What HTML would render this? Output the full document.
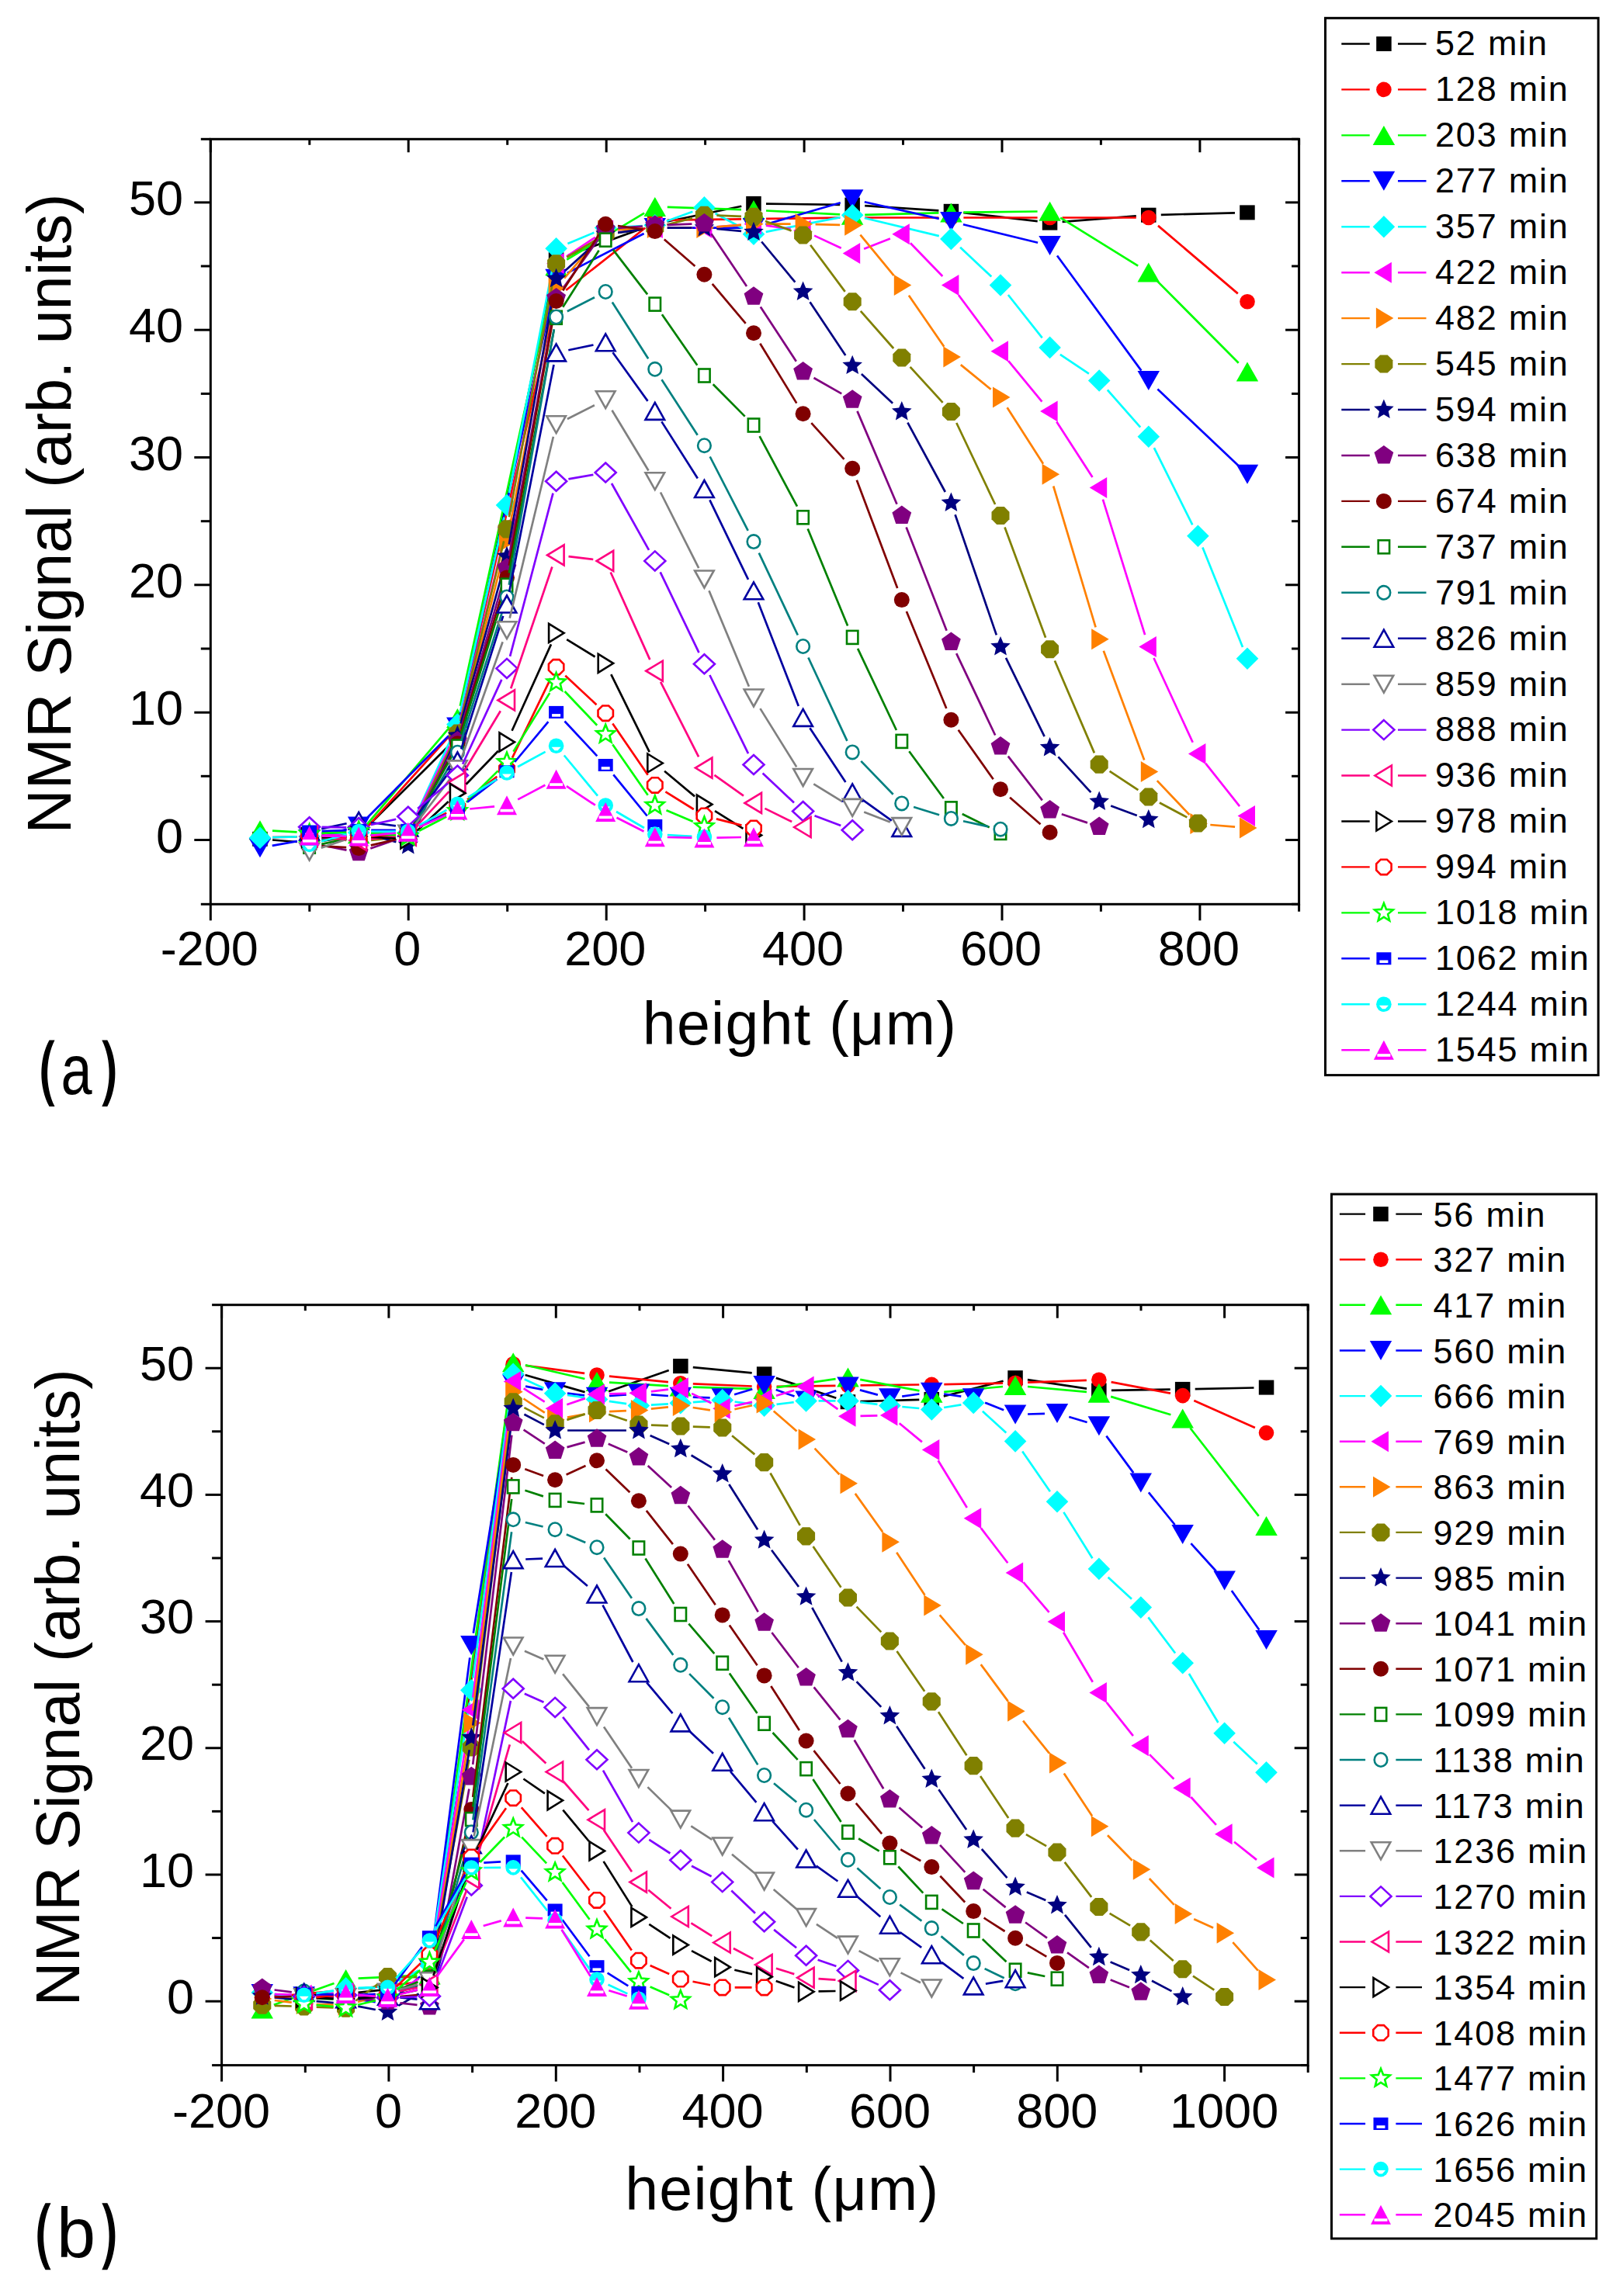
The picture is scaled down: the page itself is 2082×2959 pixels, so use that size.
<!DOCTYPE html>
<html><head><meta charset="utf-8"><style>
html,body{margin:0;padding:0;background:#fff;}
svg{display:block;}
text{font-family:"Liberation Sans", sans-serif;fill:#000;}
</style></head><body>
<svg width="2082" height="2959" viewBox="0 0 2082 2959">
<rect width="2082" height="2959" fill="#fff"/>
<path d="M351 1082.5L382.6 1085M414.4 1083.8L446.4 1078.8M473.6 1065.1L578 961.3M592.6 934.4L713.4 350.3M731.6 329.2L828.8 294.1M859.5 285.5L955.3 265.7M987 262.6L1082.2 263.9M1114.2 265.1L1209.4 271.3M1241.3 274.1L1336.7 285.2M1368.6 285.8L1463.8 278.4M1495.8 276.8L1591 274.3" fill="none" stroke="#000000" stroke-width="2.7"/>
<rect x="325.2" y="1071.8" width="19.5" height="19" fill="#000000"/>
<rect x="388.8" y="1076.7" width="19.5" height="19" fill="#000000"/>
<rect x="452.4" y="1066.9" width="19.5" height="19" fill="#000000"/>
<rect x="579.6" y="940.5" width="19.5" height="19" fill="#000000"/>
<rect x="706.8" y="325.1" width="19.5" height="19" fill="#000000"/>
<rect x="834" y="279.2" width="19.5" height="19" fill="#000000"/>
<rect x="961.2" y="252.9" width="19.5" height="19" fill="#000000"/>
<rect x="1088.4" y="254.6" width="19.5" height="19" fill="#000000"/>
<rect x="1215.7" y="262.8" width="19.5" height="19" fill="#000000"/>
<rect x="1342.8" y="277.6" width="19.5" height="19" fill="#000000"/>
<rect x="1470" y="267.7" width="19.5" height="19" fill="#000000"/>
<rect x="1597.2" y="264.4" width="19.5" height="19" fill="#000000"/>
<path d="M351 1079.2L382.6 1078.4M414.6 1078L446.2 1078M472.9 1066.1L578.7 948.8M593 921.3L713 399.5M729.2 374L831.2 293.7M859.8 283.6L955 282.3M987 281.9L1082.2 280.7M1114.2 280.5L1209.4 280.5M1241.4 280.5L1336.6 280.5M1368.6 280.5L1463.8 280.5M1492 290.9L1594.8 378.4" fill="none" stroke="#FF0000" stroke-width="2.7"/>
<circle cx="335" cy="1079.7" r="9.8" fill="#FF0000"/>
<circle cx="398.6" cy="1078" r="9.8" fill="#FF0000"/>
<circle cx="462.2" cy="1078" r="9.8" fill="#FF0000"/>
<circle cx="589.4" cy="936.9" r="9.8" fill="#FF0000"/>
<circle cx="716.6" cy="383.9" r="9.8" fill="#FF0000"/>
<circle cx="843.8" cy="283.8" r="9.8" fill="#FF0000"/>
<circle cx="971" cy="282.1" r="9.8" fill="#FF0000"/>
<circle cx="1098.2" cy="280.5" r="9.8" fill="#FF0000"/>
<circle cx="1225.4" cy="280.5" r="9.8" fill="#FF0000"/>
<circle cx="1352.6" cy="280.5" r="9.8" fill="#FF0000"/>
<circle cx="1479.8" cy="280.5" r="9.8" fill="#FF0000"/>
<circle cx="1607" cy="388.8" r="9.8" fill="#FF0000"/>
<path d="M351 1070.6L382.6 1072.3M414.6 1073.5L446.2 1074.3M472.6 1062.6L579 937.6M592.8 909.8L713.2 358.5M730.3 334.6L830.1 274.6M859.8 266.9L955 270.1M987 271.5L1082.2 276.4M1114.2 276.8L1209.4 274.3M1241.4 273.7L1336.6 272.5M1366.2 280.7L1466.2 342.6M1491.1 362.4L1595.7 467.7" fill="none" stroke="#00FF00" stroke-width="2.7"/>
<path d="M335 1057.3 L349.2 1082.3 L320.7 1082.3Z" fill="#00FF00"/>
<path d="M398.6 1060.6 L412.8 1085.6 L384.3 1085.6Z" fill="#00FF00"/>
<path d="M462.2 1062.2 L476.4 1087.2 L447.9 1087.2Z" fill="#00FF00"/>
<path d="M589.4 912.9 L603.6 937.9 L575.1 937.9Z" fill="#00FF00"/>
<path d="M716.6 330.3 L730.8 355.3 L702.3 355.3Z" fill="#00FF00"/>
<path d="M843.8 253.9 L858 278.9 L829.5 278.9Z" fill="#00FF00"/>
<path d="M971 258.1 L985.2 283.1 L956.8 283.1Z" fill="#00FF00"/>
<path d="M1098.2 264.7 L1112.4 289.7 L1083.9 289.7Z" fill="#00FF00"/>
<path d="M1225.4 261.4 L1239.7 286.4 L1211.2 286.4Z" fill="#00FF00"/>
<path d="M1352.6 259.8 L1366.8 284.8 L1338.3 284.8Z" fill="#00FF00"/>
<path d="M1479.8 338.6 L1494 363.6 L1465.5 363.6Z" fill="#00FF00"/>
<path d="M1607 466.6 L1621.2 491.6 L1592.8 491.6Z" fill="#00FF00"/>
<path d="M350.7 1089.9L382.9 1084.1M414.1 1077.3L446.7 1068.9M473.5 1053.5L578.1 948.2M592.8 921.3L713.2 374.9M730.8 351.9L829.6 301M859.8 293.6L955 293.6M986.4 289.2L1082.8 261.2M1113.8 260.2L1209.8 281.9M1240.9 289.2L1337.1 312.8M1362 329.5L1470.4 477.6M1491.4 501.5L1595.4 600.1" fill="none" stroke="#0000FF" stroke-width="2.7"/>
<path d="M335 1105.3 L349.2 1080.3 L320.7 1080.3Z" fill="#0000FF"/>
<path d="M398.6 1093.8 L412.8 1068.8 L384.3 1068.8Z" fill="#0000FF"/>
<path d="M462.2 1077.4 L476.4 1052.4 L447.9 1052.4Z" fill="#0000FF"/>
<path d="M589.4 949.4 L603.6 924.4 L575.1 924.4Z" fill="#0000FF"/>
<path d="M716.6 371.8 L730.8 346.8 L702.3 346.8Z" fill="#0000FF"/>
<path d="M843.8 306.1 L858 281.1 L829.5 281.1Z" fill="#0000FF"/>
<path d="M971 306.1 L985.2 281.1 L956.8 281.1Z" fill="#0000FF"/>
<path d="M1098.2 269.2 L1112.4 244.2 L1083.9 244.2Z" fill="#0000FF"/>
<path d="M1225.4 297.9 L1239.7 272.9 L1211.2 272.9Z" fill="#0000FF"/>
<path d="M1352.6 329.1 L1366.8 304.1 L1338.3 304.1Z" fill="#0000FF"/>
<path d="M1479.8 503 L1494 478 L1465.5 478Z" fill="#0000FF"/>
<path d="M1607 623.7 L1621.2 598.7 L1592.8 598.7Z" fill="#0000FF"/>
<path d="M351 1079.2L382.6 1078.4M414.6 1076.8L446.2 1074.3M478.2 1073.1L509.8 1073.1M532.4 1058.5L582.8 948.2M592.9 918L649.5 666.6M656 635.3L713.6 335.9M731.4 314L765.4 299.8M796.2 292.8L827.8 291.2M858.8 284.9L892.4 272.8M921.5 275L956.9 294.2M986.7 298.8L1082.5 280.2M1113.8 281L1209.8 304.1M1237.1 318.8L1277.3 356.5M1298.9 380L1342.7 435.3M1365.9 456.8L1402.9 481.6M1426.8 502.5L1469.2 550.7M1486.9 577.1L1536.3 676.4M1549.4 705.6L1601 833.9" fill="none" stroke="#00FFFF" stroke-width="2.7"/>
<path d="M335 1065.4 L349.3 1079.7 L335 1094 L320.7 1079.7Z" fill="#00FFFF"/>
<path d="M398.6 1063.7 L412.9 1078 L398.6 1092.3 L384.3 1078Z" fill="#00FFFF"/>
<path d="M462.2 1058.8 L476.5 1073.1 L462.2 1087.4 L447.9 1073.1Z" fill="#00FFFF"/>
<path d="M525.8 1058.8 L540.1 1073.1 L525.8 1087.4 L511.5 1073.1Z" fill="#00FFFF"/>
<path d="M589.4 919.3 L603.7 933.6 L589.4 947.9 L575.1 933.6Z" fill="#00FFFF"/>
<path d="M653 636.7 L667.3 651 L653 665.3 L638.7 651Z" fill="#00FFFF"/>
<path d="M716.6 305.9 L730.9 320.2 L716.6 334.5 L702.3 320.2Z" fill="#00FFFF"/>
<path d="M780.2 279.3 L794.5 293.6 L780.2 307.9 L765.9 293.6Z" fill="#00FFFF"/>
<path d="M843.8 276 L858.1 290.3 L843.8 304.6 L829.5 290.3Z" fill="#00FFFF"/>
<path d="M907.4 253.1 L921.7 267.4 L907.4 281.7 L893.1 267.4Z" fill="#00FFFF"/>
<path d="M971 287.5 L985.3 301.8 L971 316.1 L956.7 301.8Z" fill="#00FFFF"/>
<path d="M1098.2 262.9 L1112.5 277.2 L1098.2 291.5 L1083.9 277.2Z" fill="#00FFFF"/>
<path d="M1225.4 293.6 L1239.7 307.9 L1225.4 322.2 L1211.1 307.9Z" fill="#00FFFF"/>
<path d="M1289 353.2 L1303.3 367.5 L1289 381.8 L1274.7 367.5Z" fill="#00FFFF"/>
<path d="M1352.6 433.6 L1366.9 447.9 L1352.6 462.2 L1338.3 447.9Z" fill="#00FFFF"/>
<path d="M1416.2 476.2 L1430.5 490.5 L1416.2 504.8 L1401.9 490.5Z" fill="#00FFFF"/>
<path d="M1479.8 548.4 L1494.1 562.7 L1479.8 577 L1465.5 562.7Z" fill="#00FFFF"/>
<path d="M1543.4 676.4 L1557.7 690.7 L1543.4 705 L1529.1 690.7Z" fill="#00FFFF"/>
<path d="M1607 834.5 L1621.3 848.8 L1607 863.1 L1592.7 848.8Z" fill="#00FFFF"/>
<path d="M414.6 1076.4L446.2 1076.4M478.2 1075.6L509.8 1073.9M532.8 1058.7L582.4 956.2M593.2 926.3L649.2 694.8M655.9 663.5L713.7 355.3M729.9 330.7L766.9 305.8M796.2 296.1L827.8 294.4M859.8 293.6L891.4 293.6M923.4 292.4L955 289.9M986.9 290.7L1018.7 294.9M1049.1 303.6L1083.7 319.7M1113.1 320.7L1146.9 307.6M1172.9 313.3L1214.3 356M1235 380.3L1279.4 440M1299.2 465.1L1342.4 517.6M1361.3 543.4L1407.5 614.9M1420.9 643.7L1475.1 818.2M1486.5 848L1536.7 956.8M1553.3 983.9L1597.1 1039.1" fill="none" stroke="#FF00FF" stroke-width="2.7"/>
<path d="M386.1 1076.4 L408.6 1062.9 L408.6 1089.9Z" fill="#FF00FF"/>
<path d="M449.7 1076.4 L472.2 1062.9 L472.2 1089.9Z" fill="#FF00FF"/>
<path d="M513.3 1073.1 L535.8 1059.6 L535.8 1086.6Z" fill="#FF00FF"/>
<path d="M576.9 941.8 L599.4 928.3 L599.4 955.3Z" fill="#FF00FF"/>
<path d="M640.5 679.3 L663 665.8 L663 692.8Z" fill="#FF00FF"/>
<path d="M704.1 339.6 L726.6 326.1 L726.6 353.1Z" fill="#FF00FF"/>
<path d="M767.7 296.9 L790.2 283.4 L790.2 310.4Z" fill="#FF00FF"/>
<path d="M831.3 293.6 L853.8 280.1 L853.8 307.1Z" fill="#FF00FF"/>
<path d="M894.9 293.6 L917.4 280.1 L917.4 307.1Z" fill="#FF00FF"/>
<path d="M958.5 288.7 L981 275.2 L981 302.2Z" fill="#FF00FF"/>
<path d="M1022.1 296.9 L1044.6 283.4 L1044.6 310.4Z" fill="#FF00FF"/>
<path d="M1085.7 326.4 L1108.2 312.9 L1108.2 339.9Z" fill="#FF00FF"/>
<path d="M1149.3 301.8 L1171.8 288.3 L1171.8 315.3Z" fill="#FF00FF"/>
<path d="M1212.9 367.5 L1235.4 354 L1235.4 381Z" fill="#FF00FF"/>
<path d="M1276.5 452.8 L1299 439.3 L1299 466.3Z" fill="#FF00FF"/>
<path d="M1340.1 529.9 L1362.6 516.4 L1362.6 543.4Z" fill="#FF00FF"/>
<path d="M1403.7 628.4 L1426.2 614.9 L1426.2 641.9Z" fill="#FF00FF"/>
<path d="M1467.3 833.5 L1489.8 820 L1489.8 847Z" fill="#FF00FF"/>
<path d="M1530.9 971.4 L1553.4 957.9 L1553.4 984.9Z" fill="#FF00FF"/>
<path d="M1594.5 1051.6 L1617 1038.1 L1617 1065.1Z" fill="#FF00FF"/>
<path d="M414.6 1078.8L446.2 1080.5M478.2 1080.1L509.8 1077.6M533 1062.1L582.2 964.3M593.3 934.5L649.1 713M656.1 681.8L713.5 386.5M727 358.6L769.8 309M796.2 296.1L827.8 294.4M859.8 293.6L891.4 293.6M923.4 292.4L955 289.9M987 288.7L1018.6 288.7M1050.6 289.1L1082.2 289.9M1108.4 302.7L1151.6 355.1M1170.9 380.7L1216.3 446.8M1237.8 470.1L1276.6 501.8M1297.6 525.3L1344 597.7M1357.2 626.5L1411.6 808.3M1421.8 838.7L1474.2 979.5M1490.8 1006.1L1532.4 1050M1559.3 1063L1591.1 1065.7" fill="none" stroke="#FF8000" stroke-width="2.7"/>
<path d="M411.1 1078 L388.6 1064.5 L388.6 1091.5Z" fill="#FF8000"/>
<path d="M474.7 1081.3 L452.2 1067.8 L452.2 1094.8Z" fill="#FF8000"/>
<path d="M538.3 1076.4 L515.8 1062.9 L515.8 1089.9Z" fill="#FF8000"/>
<path d="M601.9 950 L579.4 936.5 L579.4 963.5Z" fill="#FF8000"/>
<path d="M665.5 697.5 L643 684 L643 711Z" fill="#FF8000"/>
<path d="M729.1 370.7 L706.6 357.2 L706.6 384.2Z" fill="#FF8000"/>
<path d="M792.7 296.9 L770.2 283.4 L770.2 310.4Z" fill="#FF8000"/>
<path d="M856.3 293.6 L833.8 280.1 L833.8 307.1Z" fill="#FF8000"/>
<path d="M919.9 293.6 L897.4 280.1 L897.4 307.1Z" fill="#FF8000"/>
<path d="M983.5 288.7 L961 275.2 L961 302.2Z" fill="#FF8000"/>
<path d="M1047.1 288.7 L1024.6 275.2 L1024.6 302.2Z" fill="#FF8000"/>
<path d="M1110.7 290.3 L1088.2 276.8 L1088.2 303.8Z" fill="#FF8000"/>
<path d="M1174.3 367.5 L1151.8 354 L1151.8 381Z" fill="#FF8000"/>
<path d="M1237.9 460 L1215.4 446.5 L1215.4 473.5Z" fill="#FF8000"/>
<path d="M1301.5 511.9 L1279 498.4 L1279 525.4Z" fill="#FF8000"/>
<path d="M1365.1 611.2 L1342.6 597.7 L1342.6 624.7Z" fill="#FF8000"/>
<path d="M1428.7 823.7 L1406.2 810.2 L1406.2 837.2Z" fill="#FF8000"/>
<path d="M1492.3 994.5 L1469.8 981 L1469.8 1008Z" fill="#FF8000"/>
<path d="M1555.9 1061.6 L1533.4 1048.1 L1533.4 1075.1Z" fill="#FF8000"/>
<path d="M1619.5 1067 L1597 1053.5 L1597 1080.5Z" fill="#FF8000"/>
<path d="M414.5 1079.7L446.3 1082.9M478.1 1082.9L509.9 1079.7M532.7 1063.6L582.5 959.5M593.2 929.5L649.2 697.4M655.9 666.2L713.7 355.5M730.3 331.5L766.5 310M796.1 299.8L827.9 295.7M859.3 289.6L891.9 281.2M923.4 277.7L955 278.8M986 284.9L1019.6 297.4M1044.1 315.8L1088.7 375.9M1108.8 400.8L1151.2 449M1172.6 472.8L1214.6 518.8M1232.3 545L1282.1 650M1294.5 679.5L1347.1 821.8M1358.9 851.5L1409.9 970.4M1429.6 993.9L1466.4 1018.2M1493.9 1034.5L1529.3 1053.4" fill="none" stroke="#808000" stroke-width="2.7"/>
<path d="M410.1 1073.2 L410.1 1082.8 L403.4 1089.6 L393.8 1089.6 L387.1 1082.8 L387.1 1073.2 L393.8 1066.5 L403.4 1066.5Z" fill="#808000"/>
<path d="M473.7 1079.8 L473.7 1089.4 L467 1096.1 L457.4 1096.1 L450.7 1089.4 L450.7 1079.8 L457.4 1073 L467 1073Z" fill="#808000"/>
<path d="M537.3 1073.2 L537.3 1082.8 L530.6 1089.6 L521 1089.6 L514.3 1082.8 L514.3 1073.2 L521 1066.5 L530.6 1066.5Z" fill="#808000"/>
<path d="M600.9 940.3 L600.9 949.9 L594.2 956.6 L584.6 956.6 L577.9 949.9 L577.9 940.3 L584.6 933.5 L594.2 933.5Z" fill="#808000"/>
<path d="M664.5 677.1 L664.5 686.7 L657.8 693.4 L648.2 693.4 L641.5 686.7 L641.5 677.1 L648.2 670.3 L657.8 670.3Z" fill="#808000"/>
<path d="M728.1 334.9 L728.1 344.5 L721.4 351.3 L711.8 351.3 L705.1 344.5 L705.1 334.9 L711.8 328.2 L721.4 328.2Z" fill="#808000"/>
<path d="M791.7 297 L791.7 306.6 L785 313.4 L775.4 313.4 L768.7 306.6 L768.7 297 L775.4 290.3 L785 290.3Z" fill="#808000"/>
<path d="M855.3 288.8 L855.3 298.4 L848.6 305.2 L839 305.2 L832.3 298.4 L832.3 288.8 L839 282.1 L848.6 282.1Z" fill="#808000"/>
<path d="M918.9 272.4 L918.9 282 L912.2 288.8 L902.6 288.8 L895.9 282 L895.9 272.4 L902.6 265.7 L912.2 265.7Z" fill="#808000"/>
<path d="M982.5 274.6 L982.5 284.1 L975.8 290.9 L966.2 290.9 L959.5 284.1 L959.5 274.6 L966.2 267.8 L975.8 267.8Z" fill="#808000"/>
<path d="M1046.1 298.2 L1046.1 307.8 L1039.4 314.5 L1029.8 314.5 L1023.1 307.8 L1023.1 298.2 L1029.8 291.4 L1039.4 291.4Z" fill="#808000"/>
<path d="M1109.7 384 L1109.7 393.6 L1103 400.3 L1093.4 400.3 L1086.7 393.6 L1086.7 384 L1093.4 377.2 L1103 377.2Z" fill="#808000"/>
<path d="M1173.3 456.2 L1173.3 465.8 L1166.6 472.6 L1157 472.6 L1150.3 465.8 L1150.3 456.2 L1157 449.5 L1166.6 449.5Z" fill="#808000"/>
<path d="M1236.9 525.8 L1236.9 535.4 L1230.2 542.1 L1220.6 542.1 L1213.9 535.4 L1213.9 525.8 L1220.6 519 L1230.2 519Z" fill="#808000"/>
<path d="M1300.5 659.7 L1300.5 669.3 L1293.8 676 L1284.2 676 L1277.5 669.3 L1277.5 659.7 L1284.2 652.9 L1293.8 652.9Z" fill="#808000"/>
<path d="M1364.1 832 L1364.1 841.6 L1357.4 848.3 L1347.8 848.3 L1341.1 841.6 L1341.1 832 L1347.8 825.2 L1357.4 825.2Z" fill="#808000"/>
<path d="M1427.7 980.4 L1427.7 989.9 L1421 996.7 L1411.4 996.7 L1404.7 989.9 L1404.7 980.4 L1411.4 973.6 L1421 973.6Z" fill="#808000"/>
<path d="M1491.3 1022.2 L1491.3 1031.8 L1484.6 1038.5 L1475 1038.5 L1468.3 1031.8 L1468.3 1022.2 L1475 1015.4 L1484.6 1015.4Z" fill="#808000"/>
<path d="M1554.9 1056.2 L1554.9 1065.7 L1548.2 1072.5 L1538.6 1072.5 L1531.9 1065.7 L1531.9 1056.2 L1538.6 1049.4 L1548.2 1049.4Z" fill="#808000"/>
<path d="M414.6 1073.9L446.2 1072.3M477.6 1075.8L510.4 1085.1M532.4 1074.9L582.8 962.6M593.6 932.6L648.8 732.6M655.8 701.4L713.8 375M728.5 348.5L768.3 312.5M796.1 299.8L827.9 295.7M859.8 293.6L891.4 293.6M923.3 295L955.1 297.8M981.2 311.5L1024.4 363.7M1043.5 389.3L1089.3 457.9M1109.9 482.1L1150.1 519.7M1169.4 544.7L1217.8 634M1230.6 663.2L1283.8 818.4M1296 847.9L1345.6 949.1M1363.4 975.3L1405.4 1021.2M1431.2 1038.6L1464.8 1050.9" fill="none" stroke="#000080" stroke-width="2.7"/>
<path d="M398.6 1061.2 L402.2 1069.7 L411.4 1070.6 L404.5 1076.7 L406.5 1085.7 L398.6 1080.9 L390.7 1085.7 L392.7 1076.7 L385.8 1070.6 L395 1069.7Z" fill="#000080"/>
<path d="M462.2 1058 L465.8 1066.4 L475 1067.3 L468.1 1073.4 L470.1 1082.4 L462.2 1077.7 L454.3 1082.4 L456.3 1073.4 L449.4 1067.3 L458.6 1066.4Z" fill="#000080"/>
<path d="M525.8 1076 L529.4 1084.5 L538.6 1085.3 L531.7 1091.4 L533.7 1100.4 L525.8 1095.7 L517.9 1100.4 L519.9 1091.4 L513 1085.3 L522.2 1084.5Z" fill="#000080"/>
<path d="M589.4 934.6 L593 943 L602.2 943.9 L595.3 950 L597.3 959 L589.4 954.3 L581.5 959 L583.5 950 L576.6 943.9 L585.8 943Z" fill="#000080"/>
<path d="M653 703.7 L656.6 712.1 L665.8 713 L658.9 719.1 L660.9 728.1 L653 723.4 L645.1 728.1 L647.1 719.1 L640.2 713 L649.4 712.1Z" fill="#000080"/>
<path d="M716.6 345.8 L720.2 354.2 L729.4 355.1 L722.5 361.2 L724.5 370.2 L716.6 365.5 L708.7 370.2 L710.7 361.2 L703.8 355.1 L713 354.2Z" fill="#000080"/>
<path d="M780.2 288.3 L783.8 296.8 L793 297.7 L786.1 303.7 L788.1 312.7 L780.2 308 L772.3 312.7 L774.3 303.7 L767.4 297.7 L776.6 296.8Z" fill="#000080"/>
<path d="M843.8 280.1 L847.4 288.6 L856.6 289.4 L849.7 295.5 L851.7 304.5 L843.8 299.8 L835.9 304.5 L837.9 295.5 L831 289.4 L840.2 288.6Z" fill="#000080"/>
<path d="M907.4 280.1 L911 288.6 L920.2 289.4 L913.3 295.5 L915.3 304.5 L907.4 299.8 L899.5 304.5 L901.5 295.5 L894.6 289.4 L903.8 288.6Z" fill="#000080"/>
<path d="M971 285.7 L974.6 294.2 L983.8 295 L976.9 301.1 L978.9 310.1 L971 305.4 L963.1 310.1 L965.1 301.1 L958.2 295 L967.4 294.2Z" fill="#000080"/>
<path d="M1034.6 362.5 L1038.2 371 L1047.4 371.8 L1040.5 377.9 L1042.5 386.9 L1034.6 382.2 L1026.7 386.9 L1028.7 377.9 L1021.8 371.8 L1031 371Z" fill="#000080"/>
<path d="M1098.2 457.7 L1101.8 466.2 L1111 467 L1104.1 473.1 L1106.1 482.1 L1098.2 477.4 L1090.3 482.1 L1092.3 473.1 L1085.4 467 L1094.6 466.2Z" fill="#000080"/>
<path d="M1161.8 517.1 L1165.4 525.6 L1174.6 526.4 L1167.7 532.5 L1169.7 541.5 L1161.8 536.8 L1153.9 541.5 L1155.9 532.5 L1149 526.4 L1158.2 525.6Z" fill="#000080"/>
<path d="M1225.4 634.6 L1229 643.1 L1238.2 643.9 L1231.3 650 L1233.3 659 L1225.4 654.3 L1217.5 659 L1219.5 650 L1212.6 643.9 L1221.8 643.1Z" fill="#000080"/>
<path d="M1289 820 L1292.6 828.5 L1301.8 829.3 L1294.9 835.4 L1296.9 844.4 L1289 839.7 L1281.1 844.4 L1283.1 835.4 L1276.2 829.3 L1285.4 828.5Z" fill="#000080"/>
<path d="M1352.6 950 L1356.2 958.5 L1365.4 959.3 L1358.5 965.4 L1360.5 974.4 L1352.6 969.7 L1344.7 974.4 L1346.7 965.4 L1339.8 959.3 L1349 958.5Z" fill="#000080"/>
<path d="M1416.2 1019.6 L1419.8 1028 L1429 1028.9 L1422.1 1035 L1424.1 1044 L1416.2 1039.3 L1408.3 1044 L1410.3 1035 L1403.4 1028.9 L1412.6 1028Z" fill="#000080"/>
<path d="M1479.8 1042.9 L1483.4 1051.3 L1492.6 1052.2 L1485.7 1058.3 L1487.7 1067.3 L1479.8 1062.6 L1471.9 1067.3 L1473.9 1058.3 L1467 1052.2 L1476.2 1051.3Z" fill="#000080"/>
<path d="M414.3 1089.3L446.5 1095.6M477.3 1093.4L510.7 1081.7M533.2 1062.2L582 969.1M593.8 939.6L648.6 747.5M655.9 716.4L713.7 399.6M725.9 370.9L770.9 308.3M796.2 294L827.8 291.6M859.8 289.8L891.4 288.6M916.4 301.3L962 369M979.8 395.6L1025.8 465.7M1048.5 487L1084.3 507.3M1104.5 529.9L1155.5 649.8M1167.6 679.4L1219.6 812.7M1232.2 842.1L1282.2 947.5M1298.8 974.6L1342.8 1031.4M1367.8 1049.2L1401 1060.4" fill="none" stroke="#800080" stroke-width="2.7"/>
<path d="M398.6 1073.2 L411 1082.2 L406.2 1096.7 L391 1096.7 L386.2 1082.2Z" fill="#800080"/>
<path d="M462.2 1085.7 L474.6 1094.7 L469.8 1109.2 L454.6 1109.2 L449.8 1094.7Z" fill="#800080"/>
<path d="M525.8 1063.4 L538.2 1072.4 L533.4 1086.9 L518.2 1086.9 L513.4 1072.4Z" fill="#800080"/>
<path d="M589.4 941.9 L601.8 950.9 L597 965.5 L581.8 965.5 L577 950.9Z" fill="#800080"/>
<path d="M653 719.1 L665.4 728.1 L660.6 742.6 L645.4 742.6 L640.6 728.1Z" fill="#800080"/>
<path d="M716.6 370.9 L729 379.9 L724.2 394.4 L709 394.4 L704.2 379.9Z" fill="#800080"/>
<path d="M780.2 282.3 L792.6 291.2 L787.8 305.8 L772.6 305.8 L767.8 291.2Z" fill="#800080"/>
<path d="M843.8 277.3 L856.2 286.3 L851.4 300.9 L836.2 300.9 L831.4 286.3Z" fill="#800080"/>
<path d="M907.4 275 L919.8 284 L915 298.6 L899.8 298.6 L895 284Z" fill="#800080"/>
<path d="M971 369.2 L983.4 378.2 L978.6 392.8 L963.4 392.8 L958.6 378.2Z" fill="#800080"/>
<path d="M1034.6 466.1 L1047 475 L1042.2 489.6 L1027 489.6 L1022.2 475Z" fill="#800080"/>
<path d="M1098.2 502.2 L1110.6 511.1 L1105.8 525.7 L1090.6 525.7 L1085.8 511.1Z" fill="#800080"/>
<path d="M1161.8 651.5 L1174.2 660.5 L1169.4 675 L1154.2 675 L1149.4 660.5Z" fill="#800080"/>
<path d="M1225.4 814.6 L1237.8 823.6 L1233 838.1 L1217.8 838.1 L1213 823.6Z" fill="#800080"/>
<path d="M1289 949 L1301.4 958 L1296.6 972.5 L1281.4 972.5 L1276.6 958Z" fill="#800080"/>
<path d="M1352.6 1031 L1365 1040 L1360.2 1054.6 L1345 1054.6 L1340.2 1040Z" fill="#800080"/>
<path d="M1416.2 1052.5 L1428.6 1061.5 L1423.8 1076.1 L1408.6 1076.1 L1403.8 1061.5Z" fill="#800080"/>
<path d="M414.6 1090.4L446.2 1092.2M477.8 1089.4L510.2 1081.7M533.3 1063.9L581.9 972.4M594 942.9L648.4 759.7M655.8 728.7L713.8 403.7M725.2 374.5L771.6 302.2M796 291L828 295.7M855.8 308.6L895.4 343.1M917.7 365.9L960.7 416.9M979.3 442.8L1026.3 519.6M1045.3 545.1L1087.5 591.9M1103.8 618.7L1156.2 758.1M1167.9 787.9L1219.3 912.9M1234.7 940.7L1279.7 1004.3M1301.1 1027.8L1340.5 1062.3" fill="none" stroke="#800000" stroke-width="2.7"/>
<circle cx="398.6" cy="1089.5" r="10" fill="#800000"/>
<circle cx="462.2" cy="1093.1" r="10" fill="#800000"/>
<circle cx="525.8" cy="1078" r="10" fill="#800000"/>
<circle cx="589.4" cy="958.2" r="10" fill="#800000"/>
<circle cx="653" cy="744.4" r="10" fill="#800000"/>
<circle cx="716.6" cy="388" r="10" fill="#800000"/>
<circle cx="780.2" cy="288.7" r="10" fill="#800000"/>
<circle cx="843.8" cy="298.1" r="10" fill="#800000"/>
<circle cx="907.4" cy="353.7" r="10" fill="#800000"/>
<circle cx="971" cy="429.2" r="10" fill="#800000"/>
<circle cx="1034.6" cy="533.2" r="10" fill="#800000"/>
<circle cx="1098.2" cy="603.8" r="10" fill="#800000"/>
<circle cx="1161.8" cy="773.1" r="10" fill="#800000"/>
<circle cx="1225.4" cy="927.7" r="10" fill="#800000"/>
<circle cx="1289" cy="1017.3" r="10" fill="#800000"/>
<circle cx="1352.6" cy="1072.8" r="10" fill="#800000"/>
<path d="M414.3 1087.9L446.5 1081.3M478.2 1077.2L509.8 1075.6M533.7 1060.8L581.5 975.9M594.1 946.7L648.3 769.5M655.9 738.5L713.7 425M725.2 395.8L771.6 322.7M789.9 321.9L834.1 379.4M852.9 405.2L898.3 470.8M918.7 495.3L959.7 536.6M978.6 562.1L1027 652.7M1040.7 681.6L1092.1 806.6M1105.1 835.8L1154.9 941M1171.3 968.3L1215.9 1029M1239.7 1049L1274.7 1066.3" fill="none" stroke="#008000" stroke-width="2.7"/>
<rect x="391.4" y="1082.6" width="14.4" height="17" fill="#fff" stroke="#008000" stroke-width="2.6"/>
<rect x="455" y="1069.5" width="14.4" height="17" fill="#fff" stroke="#008000" stroke-width="2.6"/>
<rect x="518.6" y="1066.2" width="14.4" height="17" fill="#fff" stroke="#008000" stroke-width="2.6"/>
<rect x="582.2" y="953.5" width="14.4" height="17" fill="#fff" stroke="#008000" stroke-width="2.6"/>
<rect x="645.8" y="745.7" width="14.4" height="17" fill="#fff" stroke="#008000" stroke-width="2.6"/>
<rect x="709.4" y="400.8" width="14.4" height="17" fill="#fff" stroke="#008000" stroke-width="2.6"/>
<rect x="773" y="300.7" width="14.4" height="17" fill="#fff" stroke="#008000" stroke-width="2.6"/>
<rect x="836.6" y="383.6" width="14.4" height="17" fill="#fff" stroke="#008000" stroke-width="2.6"/>
<rect x="900.2" y="475.5" width="14.4" height="17" fill="#fff" stroke="#008000" stroke-width="2.6"/>
<rect x="963.8" y="539.5" width="14.4" height="17" fill="#fff" stroke="#008000" stroke-width="2.6"/>
<rect x="1027.4" y="658.3" width="14.4" height="17" fill="#fff" stroke="#008000" stroke-width="2.6"/>
<rect x="1091" y="812.9" width="14.4" height="17" fill="#fff" stroke="#008000" stroke-width="2.6"/>
<rect x="1154.6" y="946.9" width="14.4" height="17" fill="#fff" stroke="#008000" stroke-width="2.6"/>
<rect x="1218.2" y="1033.4" width="14.4" height="17" fill="#fff" stroke="#008000" stroke-width="2.6"/>
<rect x="1281.8" y="1064.9" width="14.4" height="17" fill="#fff" stroke="#008000" stroke-width="2.6"/>
<path d="M414.3 1081.7L446.5 1075.9M478.2 1074.3L509.8 1076.8M533.9 1064.2L581.3 983.5M594.2 954.5L648.2 784.8M655.8 753.8L713.8 424.2M730.8 401.2L766 383.3M788.8 389.5L835.2 462.3M852.5 489.2L898.7 560.8M914.7 588.5L963.7 683.9M977.8 712.6L1027.8 818.5M1041.4 847.5L1091.4 954.9M1109.3 980.9L1150.7 1023.8M1177.1 1040L1210.1 1050.2M1241 1058.3L1273.4 1065.3" fill="none" stroke="#008080" stroke-width="2.7"/>
<ellipse cx="398.6" cy="1084.6" rx="8.3" ry="8.7" fill="#fff" stroke="#008080" stroke-width="2.6"/>
<ellipse cx="462.2" cy="1073.1" rx="8.3" ry="8.7" fill="#fff" stroke="#008080" stroke-width="2.6"/>
<ellipse cx="525.8" cy="1078" rx="8.3" ry="8.7" fill="#fff" stroke="#008080" stroke-width="2.6"/>
<ellipse cx="589.4" cy="969.7" rx="8.3" ry="8.7" fill="#fff" stroke="#008080" stroke-width="2.6"/>
<ellipse cx="653" cy="769.5" rx="8.3" ry="8.7" fill="#fff" stroke="#008080" stroke-width="2.6"/>
<ellipse cx="716.6" cy="408.5" rx="8.3" ry="8.7" fill="#fff" stroke="#008080" stroke-width="2.6"/>
<ellipse cx="780.2" cy="376" rx="8.3" ry="8.7" fill="#fff" stroke="#008080" stroke-width="2.6"/>
<ellipse cx="843.8" cy="475.8" rx="8.3" ry="8.7" fill="#fff" stroke="#008080" stroke-width="2.6"/>
<ellipse cx="907.4" cy="574.2" rx="8.3" ry="8.7" fill="#fff" stroke="#008080" stroke-width="2.6"/>
<ellipse cx="971" cy="698.1" rx="8.3" ry="8.7" fill="#fff" stroke="#008080" stroke-width="2.6"/>
<ellipse cx="1034.6" cy="833" rx="8.3" ry="8.7" fill="#fff" stroke="#008080" stroke-width="2.6"/>
<ellipse cx="1098.2" cy="969.4" rx="8.3" ry="8.7" fill="#fff" stroke="#008080" stroke-width="2.6"/>
<ellipse cx="1161.8" cy="1035.4" rx="8.3" ry="8.7" fill="#fff" stroke="#008080" stroke-width="2.6"/>
<ellipse cx="1225.4" cy="1054.9" rx="8.3" ry="8.7" fill="#fff" stroke="#008080" stroke-width="2.6"/>
<ellipse cx="1289" cy="1068.7" rx="8.3" ry="8.7" fill="#fff" stroke="#008080" stroke-width="2.6"/>
<path d="M414.2 1068.1L446.6 1061.2M478.1 1060L509.9 1064.4M535.3 1053.7L579.9 993.4M594.2 965.3L648.2 793.8M656.1 762.8L713.5 470.1M732.3 451.2L764.5 444.5M789.5 454.3L834.5 516.9M852.4 543.4L898.8 616.5M914.4 644.4L964 746.9M976.8 776.2L1028.8 910M1043.4 938.3L1089.4 1008M1111.2 1030.7L1148.8 1057.6" fill="none" stroke="#0000A0" stroke-width="2.7"/>
<path d="M398.6 1060.5 L410.9 1082.5 L386.3 1082.5Z" fill="#fff" stroke="#0000A0" stroke-width="2.6"/>
<path d="M462.2 1046.8 L474.5 1068.8 L449.9 1068.8Z" fill="#fff" stroke="#0000A0" stroke-width="2.6"/>
<path d="M525.8 1055.5 L538.1 1077.5 L513.5 1077.5Z" fill="#fff" stroke="#0000A0" stroke-width="2.6"/>
<path d="M589.4 969.5 L601.7 991.5 L577.1 991.5Z" fill="#fff" stroke="#0000A0" stroke-width="2.6"/>
<path d="M653 767.5 L665.3 789.5 L640.7 789.5Z" fill="#fff" stroke="#0000A0" stroke-width="2.6"/>
<path d="M716.6 443.4 L728.9 465.4 L704.3 465.4Z" fill="#fff" stroke="#0000A0" stroke-width="2.6"/>
<path d="M780.2 430.3 L792.5 452.3 L767.9 452.3Z" fill="#fff" stroke="#0000A0" stroke-width="2.6"/>
<path d="M843.8 518.9 L856.1 540.9 L831.5 540.9Z" fill="#fff" stroke="#0000A0" stroke-width="2.6"/>
<path d="M907.4 619 L919.7 641 L895.1 641Z" fill="#fff" stroke="#0000A0" stroke-width="2.6"/>
<path d="M971 750.3 L983.3 772.3 L958.7 772.3Z" fill="#fff" stroke="#0000A0" stroke-width="2.6"/>
<path d="M1034.6 913.9 L1046.9 935.9 L1022.3 935.9Z" fill="#fff" stroke="#0000A0" stroke-width="2.6"/>
<path d="M1098.2 1010.4 L1110.5 1032.4 L1085.9 1032.4Z" fill="#fff" stroke="#0000A0" stroke-width="2.6"/>
<path d="M1161.8 1055.9 L1174.1 1077.9 L1149.5 1077.9Z" fill="#fff" stroke="#0000A0" stroke-width="2.6"/>
<path d="M413.8 1092.6L447 1081.5M478.2 1076L509.8 1075.1M535.5 1062L579.7 1004.1M594.8 976.3L647.6 827.3M656.7 796.6L712.9 562.7M730.9 540L765.9 522.3M788.5 528.8L835.5 606.5M851 634.5L900.2 732.2M913.5 761.3L964.9 884.7M979.4 913.1L1026.2 988.4M1048.3 1010.4L1084.5 1032.6M1113.2 1046.6L1146.8 1059.4" fill="none" stroke="#808080" stroke-width="2.7"/>
<path d="M398.6 1108.7 L410.9 1086.7 L386.3 1086.7Z" fill="#fff" stroke="#808080" stroke-width="2.6"/>
<path d="M462.2 1087.4 L474.5 1065.4 L449.9 1065.4Z" fill="#fff" stroke="#808080" stroke-width="2.6"/>
<path d="M525.8 1085.7 L538.1 1063.7 L513.5 1063.7Z" fill="#fff" stroke="#808080" stroke-width="2.6"/>
<path d="M589.4 1002.4 L601.7 980.4 L577.1 980.4Z" fill="#fff" stroke="#808080" stroke-width="2.6"/>
<path d="M653 823.2 L665.3 801.2 L640.7 801.2Z" fill="#fff" stroke="#808080" stroke-width="2.6"/>
<path d="M716.6 558.2 L728.9 536.2 L704.3 536.2Z" fill="#fff" stroke="#808080" stroke-width="2.6"/>
<path d="M780.2 526.2 L792.5 504.2 L767.9 504.2Z" fill="#fff" stroke="#808080" stroke-width="2.6"/>
<path d="M843.8 631.2 L856.1 609.2 L831.5 609.2Z" fill="#fff" stroke="#808080" stroke-width="2.6"/>
<path d="M907.4 757.5 L919.7 735.5 L895.1 735.5Z" fill="#fff" stroke="#808080" stroke-width="2.6"/>
<path d="M971 910.5 L983.3 888.5 L958.7 888.5Z" fill="#fff" stroke="#808080" stroke-width="2.6"/>
<path d="M1034.6 1013 L1046.9 991 L1022.3 991Z" fill="#fff" stroke="#808080" stroke-width="2.6"/>
<path d="M1098.2 1051.9 L1110.5 1029.9 L1085.9 1029.9Z" fill="#fff" stroke="#808080" stroke-width="2.6"/>
<path d="M1161.8 1076.1 L1174.1 1054.1 L1149.5 1054.1Z" fill="#fff" stroke="#808080" stroke-width="2.6"/>
<path d="M414.6 1065.9L446.2 1066.3M477.8 1063L510.2 1055.8M538.1 1042L577.1 1009.5M596.1 984.7L646.3 875.9M657.1 845.9L712.5 635.7M732.4 617.4L764.4 611.8M788 623L836 708.9M850.7 737.3L900.5 841.2M914.4 870L964 971.1M982.6 996.5L1023 1034.5M1049.5 1051.2L1083.3 1064.1" fill="none" stroke="#8000FF" stroke-width="2.7"/>
<path d="M398.6 1053.2 L412.1 1065.7 L398.6 1078.2 L385.1 1065.7Z" fill="#fff" stroke="#8000FF" stroke-width="2.6"/>
<path d="M462.2 1054 L475.7 1066.5 L462.2 1079 L448.7 1066.5Z" fill="#fff" stroke="#8000FF" stroke-width="2.6"/>
<path d="M525.8 1039.8 L539.3 1052.3 L525.8 1064.8 L512.3 1052.3Z" fill="#fff" stroke="#8000FF" stroke-width="2.6"/>
<path d="M589.4 986.8 L602.9 999.2 L589.4 1011.8 L575.9 999.2Z" fill="#fff" stroke="#8000FF" stroke-width="2.6"/>
<path d="M653 848.9 L666.5 861.4 L653 873.9 L639.5 861.4Z" fill="#fff" stroke="#8000FF" stroke-width="2.6"/>
<path d="M716.6 607.7 L730.1 620.2 L716.6 632.7 L703.1 620.2Z" fill="#fff" stroke="#8000FF" stroke-width="2.6"/>
<path d="M780.2 596.5 L793.7 609 L780.2 621.5 L766.7 609Z" fill="#fff" stroke="#8000FF" stroke-width="2.6"/>
<path d="M843.8 710.4 L857.3 722.9 L843.8 735.4 L830.3 722.9Z" fill="#fff" stroke="#8000FF" stroke-width="2.6"/>
<path d="M907.4 843.2 L920.9 855.7 L907.4 868.2 L893.9 855.7Z" fill="#fff" stroke="#8000FF" stroke-width="2.6"/>
<path d="M971 973 L984.5 985.5 L971 998 L957.5 985.5Z" fill="#fff" stroke="#8000FF" stroke-width="2.6"/>
<path d="M1034.6 1033 L1048.1 1045.5 L1034.6 1058 L1021.1 1045.5Z" fill="#fff" stroke="#8000FF" stroke-width="2.6"/>
<path d="M1098.2 1057.3 L1111.7 1069.8 L1098.2 1082.3 L1084.7 1069.8Z" fill="#fff" stroke="#8000FF" stroke-width="2.6"/>
<path d="M414.6 1079.3L446.2 1081.7M478.1 1081.3L509.9 1078M536.7 1064.7L578.5 1020.1M597.6 994.7L644.8 916.2M658.2 887.3L711.4 730.5M732.5 717.2L764.3 721M786.7 737.5L837.3 850.1M851.1 878.9L900.1 975.3M920.4 998.8L958 1025.6M985.4 1041.9L1020.2 1059" fill="none" stroke="#FF0080" stroke-width="2.7"/>
<path d="M387.1 1078 L408.6 1065 L408.6 1091Z" fill="#fff" stroke="#FF0080" stroke-width="2.6"/>
<path d="M450.7 1082.9 L472.2 1069.9 L472.2 1095.9Z" fill="#fff" stroke="#FF0080" stroke-width="2.6"/>
<path d="M514.3 1076.4 L535.8 1063.4 L535.8 1089.4Z" fill="#fff" stroke="#FF0080" stroke-width="2.6"/>
<path d="M577.9 1008.4 L599.4 995.4 L599.4 1021.4Z" fill="#fff" stroke="#FF0080" stroke-width="2.6"/>
<path d="M641.5 902.4 L663 889.4 L663 915.4Z" fill="#fff" stroke="#FF0080" stroke-width="2.6"/>
<path d="M705.1 715.4 L726.6 702.4 L726.6 728.4Z" fill="#fff" stroke="#FF0080" stroke-width="2.6"/>
<path d="M768.7 722.9 L790.2 709.9 L790.2 735.9Z" fill="#fff" stroke="#FF0080" stroke-width="2.6"/>
<path d="M832.3 864.7 L853.8 851.7 L853.8 877.7Z" fill="#fff" stroke="#FF0080" stroke-width="2.6"/>
<path d="M895.9 989.6 L917.4 976.6 L917.4 1002.6Z" fill="#fff" stroke="#FF0080" stroke-width="2.6"/>
<path d="M959.5 1034.9 L981 1021.9 L981 1047.9Z" fill="#fff" stroke="#FF0080" stroke-width="2.6"/>
<path d="M1023.1 1066 L1044.6 1053 L1044.6 1079Z" fill="#fff" stroke="#FF0080" stroke-width="2.6"/>
<path d="M414.6 1079.2L446.2 1078.4M478.2 1078.8L509.8 1080.5M537.5 1070.4L577.7 1033.1M600.5 1010.7L641.9 967.8M659.6 941.7L710 830.4M730.2 824.2L766.6 846.5M787.3 869.2L836.7 969.2M856.1 993.8L895.1 1026.4M921 1045.1L957.4 1067.9" fill="none" stroke="#000000" stroke-width="2.7"/>
<path d="M408.6 1079.7 L389.1 1067.7 L389.1 1091.7Z" fill="#fff" stroke="#000000" stroke-width="2.6"/>
<path d="M472.2 1078 L452.7 1066 L452.7 1090Z" fill="#fff" stroke="#000000" stroke-width="2.6"/>
<path d="M535.8 1081.3 L516.3 1069.3 L516.3 1093.3Z" fill="#fff" stroke="#000000" stroke-width="2.6"/>
<path d="M599.4 1022.2 L579.9 1010.2 L579.9 1034.2Z" fill="#fff" stroke="#000000" stroke-width="2.6"/>
<path d="M663 956.3 L643.5 944.3 L643.5 968.3Z" fill="#fff" stroke="#000000" stroke-width="2.6"/>
<path d="M726.6 815.8 L707.1 803.8 L707.1 827.8Z" fill="#fff" stroke="#000000" stroke-width="2.6"/>
<path d="M790.2 854.8 L770.7 842.8 L770.7 866.8Z" fill="#fff" stroke="#000000" stroke-width="2.6"/>
<path d="M853.8 983.5 L834.3 971.5 L834.3 995.5Z" fill="#fff" stroke="#000000" stroke-width="2.6"/>
<path d="M917.4 1036.7 L897.9 1024.7 L897.9 1048.7Z" fill="#fff" stroke="#000000" stroke-width="2.6"/>
<path d="M981 1076.4 L961.5 1064.4 L961.5 1088.4Z" fill="#fff" stroke="#000000" stroke-width="2.6"/>
<path d="M414.6 1077.2L446.2 1078.8M478.1 1078L509.9 1074.7M540 1065.8L575.2 1047.6M602.1 1030.5L640.3 1000.8M660 976.6L709.6 874.2M728.3 870.7L768.5 908.2M789.3 932.4L834.7 998.7M857.4 1020.3L893.8 1043M922.9 1055.4L955.5 1063.6" fill="none" stroke="#FF0000" stroke-width="2.7"/>
<path d="M408.3 1072.4 L408.3 1080.4 L402.6 1086.1 L394.6 1086.1 L388.9 1080.4 L388.9 1072.4 L394.6 1066.7 L402.6 1066.7Z" fill="#fff" stroke="#FF0000" stroke-width="2.6"/>
<path d="M471.9 1075.6 L471.9 1083.7 L466.2 1089.4 L458.2 1089.4 L452.5 1083.7 L452.5 1075.6 L458.2 1070 L466.2 1070Z" fill="#fff" stroke="#FF0000" stroke-width="2.6"/>
<path d="M535.5 1069.1 L535.5 1077.1 L529.8 1082.8 L521.8 1082.8 L516.1 1077.1 L516.1 1069.1 L521.8 1063.4 L529.8 1063.4Z" fill="#fff" stroke="#FF0000" stroke-width="2.6"/>
<path d="M599.1 1036.3 L599.1 1044.3 L593.4 1050 L585.4 1050 L579.7 1044.3 L579.7 1036.3 L585.4 1030.6 L593.4 1030.6Z" fill="#fff" stroke="#FF0000" stroke-width="2.6"/>
<path d="M662.7 987 L662.7 995.1 L657 1000.7 L649 1000.7 L643.3 995.1 L643.3 987 L649 981.3 L657 981.3Z" fill="#fff" stroke="#FF0000" stroke-width="2.6"/>
<path d="M726.3 855.7 L726.3 863.8 L720.6 869.5 L712.6 869.5 L706.9 863.8 L706.9 855.7 L712.6 850.1 L720.6 850.1Z" fill="#fff" stroke="#FF0000" stroke-width="2.6"/>
<path d="M789.9 915.2 L789.9 923.2 L784.2 928.9 L776.2 928.9 L770.5 923.2 L770.5 915.2 L776.2 909.5 L784.2 909.5Z" fill="#fff" stroke="#FF0000" stroke-width="2.6"/>
<path d="M853.5 1007.9 L853.5 1015.9 L847.8 1021.6 L839.8 1021.6 L834.1 1015.9 L834.1 1007.9 L839.8 1002.2 L847.8 1002.2Z" fill="#fff" stroke="#FF0000" stroke-width="2.6"/>
<path d="M917.1 1047.4 L917.1 1055.5 L911.4 1061.1 L903.4 1061.1 L897.7 1055.5 L897.7 1047.4 L903.4 1041.7 L911.4 1041.7Z" fill="#fff" stroke="#FF0000" stroke-width="2.6"/>
<path d="M980.7 1063.5 L980.7 1071.5 L975 1077.2 L967 1077.2 L961.3 1071.5 L961.3 1063.5 L967 1057.8 L975 1057.8Z" fill="#fff" stroke="#FF0000" stroke-width="2.6"/>
<path d="M414.6 1073.9L446.2 1072.3M478.1 1073.1L509.9 1076.4M540 1070.7L575.2 1052.5M600.8 1033.9L641.6 993.4M661.4 968.6L708.2 893.1M727.6 891L769.2 934.7M789.3 959.4L834.7 1024.8M858.5 1044.2L892.7 1058.8" fill="none" stroke="#00FF00" stroke-width="2.7"/>
<path d="M398.6 1062.2 L401.8 1070.3 L410.5 1070.9 L403.8 1076.4 L405.9 1084.8 L398.6 1080.2 L391.3 1084.8 L393.4 1076.4 L386.7 1070.9 L395.4 1070.3Z" fill="#fff" stroke="#00FF00" stroke-width="2.6"/>
<path d="M462.2 1059 L465.4 1067 L474.1 1067.6 L467.4 1073.2 L469.5 1081.6 L462.2 1077 L454.9 1081.6 L457 1073.2 L450.3 1067.6 L459 1067Z" fill="#fff" stroke="#00FF00" stroke-width="2.6"/>
<path d="M525.8 1065.5 L529 1073.6 L537.7 1074.2 L531 1079.7 L533.1 1088.1 L525.8 1083.5 L518.5 1088.1 L520.6 1079.7 L513.9 1074.2 L522.6 1073.6Z" fill="#fff" stroke="#00FF00" stroke-width="2.6"/>
<path d="M589.4 1032.7 L592.6 1040.7 L601.3 1041.3 L594.6 1046.9 L596.7 1055.3 L589.4 1050.7 L582.1 1055.3 L584.2 1046.9 L577.5 1041.3 L586.2 1040.7Z" fill="#fff" stroke="#00FF00" stroke-width="2.6"/>
<path d="M653 969.7 L656.2 977.7 L664.9 978.3 L658.2 983.9 L660.3 992.3 L653 987.7 L645.7 992.3 L647.8 983.9 L641.1 978.3 L649.8 977.7Z" fill="#fff" stroke="#00FF00" stroke-width="2.6"/>
<path d="M716.6 867 L719.8 875 L728.5 875.6 L721.8 881.2 L723.9 889.6 L716.6 885 L709.3 889.6 L711.4 881.2 L704.7 875.6 L713.4 875Z" fill="#fff" stroke="#00FF00" stroke-width="2.6"/>
<path d="M780.2 933.7 L783.4 941.8 L792.1 942.4 L785.4 947.9 L787.5 956.4 L780.2 951.7 L772.9 956.4 L775 947.9 L768.3 942.4 L777 941.8Z" fill="#fff" stroke="#00FF00" stroke-width="2.6"/>
<path d="M843.8 1025.5 L847 1033.5 L855.7 1034.1 L849 1039.7 L851.1 1048.1 L843.8 1043.5 L836.5 1048.1 L838.6 1039.7 L831.9 1034.1 L840.6 1033.5Z" fill="#fff" stroke="#00FF00" stroke-width="2.6"/>
<path d="M907.4 1052.6 L910.6 1060.6 L919.3 1061.2 L912.6 1066.8 L914.7 1075.2 L907.4 1070.6 L900.1 1075.2 L902.2 1066.8 L895.5 1061.2 L904.2 1060.6Z" fill="#fff" stroke="#00FF00" stroke-width="2.6"/>
<path d="M414.6 1071L446.2 1070.2M478.2 1069.8L509.8 1069.8M540.6 1063.7L574.6 1049.7M602.1 1033.8L640.3 1004.1M663.2 982L706.4 930.2M727.5 929.5L769.3 974.3M790.3 998.4L833.7 1051.5" fill="none" stroke="#0000FF" stroke-width="2.7"/>
<rect x="389.1" y="1063.5" width="19" height="16" fill="#0000FF"/><rect x="393.1" y="1073.7" width="11" height="3.6" fill="#fff"/>
<rect x="452.7" y="1061.8" width="19" height="16" fill="#0000FF"/><rect x="456.7" y="1072" width="11" height="3.6" fill="#fff"/>
<rect x="516.3" y="1061.8" width="19" height="16" fill="#0000FF"/><rect x="520.3" y="1072" width="11" height="3.6" fill="#fff"/>
<rect x="579.9" y="1035.6" width="19" height="16" fill="#0000FF"/><rect x="583.9" y="1045.8" width="11" height="3.6" fill="#fff"/>
<rect x="643.5" y="986.3" width="19" height="16" fill="#0000FF"/><rect x="647.5" y="996.5" width="11" height="3.6" fill="#fff"/>
<rect x="707.1" y="909.9" width="19" height="16" fill="#0000FF"/><rect x="711.1" y="920.1" width="11" height="3.6" fill="#fff"/>
<rect x="770.7" y="978" width="19" height="16" fill="#0000FF"/><rect x="774.7" y="988.2" width="11" height="3.6" fill="#fff"/>
<rect x="834.3" y="1055.9" width="19" height="16" fill="#0000FF"/><rect x="838.3" y="1066.1" width="11" height="3.6" fill="#fff"/>
<path d="M414.1 1084.2L446.7 1075.6M478.2 1071.5L509.8 1071.5M539.8 1063.7L575.4 1043.9M602.9 1027.6L639.5 1004.5M667 988.3L702.6 968.9M726.8 973.5L770 1025.7M794 1046L830 1067M859.8 1076L891.4 1077.9" fill="none" stroke="#00FFFF" stroke-width="2.7"/>
<circle cx="398.6" cy="1088.4" r="9.8" fill="#00FFFF"/><path d="M392.6 1089.9H404.6L400.6 1094.4H396.6Z" fill="#fff"/>
<circle cx="462.2" cy="1071.5" r="9.8" fill="#00FFFF"/><path d="M456.2 1073H468.2L464.2 1077.5H460.2Z" fill="#fff"/>
<circle cx="525.8" cy="1071.5" r="9.8" fill="#00FFFF"/><path d="M519.8 1073H531.8L527.8 1077.5H523.8Z" fill="#fff"/>
<circle cx="589.4" cy="1036.2" r="9.8" fill="#00FFFF"/><path d="M583.4 1037.7H595.4L591.4 1042.2H587.4Z" fill="#fff"/>
<circle cx="653" cy="996" r="9.8" fill="#00FFFF"/><path d="M647 997.5H659L655 1002H651Z" fill="#fff"/>
<circle cx="716.6" cy="961.2" r="9.8" fill="#00FFFF"/><path d="M710.6 962.7H722.6L718.6 967.2H714.6Z" fill="#fff"/>
<circle cx="780.2" cy="1038" r="9.8" fill="#00FFFF"/><path d="M774.2 1039.5H786.2L782.2 1044H778.2Z" fill="#fff"/>
<circle cx="843.8" cy="1075.1" r="9.8" fill="#00FFFF"/><path d="M837.8 1076.6H849.8L845.8 1081.1H841.8Z" fill="#fff"/>
<circle cx="907.4" cy="1078.8" r="9.8" fill="#00FFFF"/><path d="M901.4 1080.3H913.4L909.4 1084.8H905.4Z" fill="#fff"/>
<path d="M414.6 1077.3L446.2 1077.8M478.1 1076.6L509.9 1073.7M540.4 1065.8L574.8 1050.5M605.3 1042.5L637.1 1039.4M667.2 1030.4L702.4 1011.8M729.9 1013.2L766.9 1037.7M794.5 1053.7L829.5 1071.5M859.8 1079L891.4 1079.7M923.4 1079.7L955 1079" fill="none" stroke="#FF00FF" stroke-width="2.7"/>
<path d="M398.6 1064.5 L411.6 1089.5 L385.6 1089.5Z" fill="#FF00FF"/><rect x="390.1" y="1082" width="17" height="3.6" fill="#fff"/>
<path d="M462.2 1065.5 L475.2 1090.5 L449.2 1090.5Z" fill="#FF00FF"/><rect x="453.7" y="1083" width="17" height="3.6" fill="#fff"/>
<path d="M525.8 1059.8 L538.8 1084.8 L512.8 1084.8Z" fill="#FF00FF"/><rect x="517.3" y="1077.3" width="17" height="3.6" fill="#fff"/>
<path d="M589.4 1031.5 L602.4 1056.5 L576.4 1056.5Z" fill="#FF00FF"/><rect x="580.9" y="1049" width="17" height="3.6" fill="#fff"/>
<path d="M653 1025.3 L666 1050.3 L640 1050.3Z" fill="#FF00FF"/><rect x="644.5" y="1042.8" width="17" height="3.6" fill="#fff"/>
<path d="M716.6 991.8 L729.6 1016.8 L703.6 1016.8Z" fill="#FF00FF"/><rect x="708.1" y="1009.3" width="17" height="3.6" fill="#fff"/>
<path d="M780.2 1034 L793.2 1059 L767.2 1059Z" fill="#FF00FF"/><rect x="771.7" y="1051.5" width="17" height="3.6" fill="#fff"/>
<path d="M843.8 1066.2 L856.8 1091.2 L830.8 1091.2Z" fill="#FF00FF"/><rect x="835.3" y="1083.7" width="17" height="3.6" fill="#fff"/>
<path d="M907.4 1067.5 L920.4 1092.5 L894.4 1092.5Z" fill="#FF00FF"/><rect x="898.9" y="1085" width="17" height="3.6" fill="#fff"/>
<path d="M971 1066.2 L984 1091.2 L958 1091.2Z" fill="#FF00FF"/><rect x="962.5" y="1083.7" width="17" height="3.6" fill="#fff"/>
<rect x="271.3" y="179.3" width="1402.3" height="986" fill="none" stroke="#000" stroke-width="3"/>
<line x1="271.3" y1="1165.3" x2="271.3" y2="1186.3" stroke="#000" stroke-width="3"/>
<line x1="271.3" y1="179.3" x2="271.3" y2="196.3" stroke="#000" stroke-width="3"/>
<text x="269.8" y="1244.2" text-anchor="middle" font-size="63">-200</text>
<line x1="398.8" y1="1165.3" x2="398.8" y2="1174.8" stroke="#000" stroke-width="3"/>
<line x1="398.8" y1="179.3" x2="398.8" y2="186.8" stroke="#000" stroke-width="3"/>
<line x1="526.2" y1="1165.3" x2="526.2" y2="1186.3" stroke="#000" stroke-width="3"/>
<line x1="526.2" y1="179.3" x2="526.2" y2="196.3" stroke="#000" stroke-width="3"/>
<text x="524.8" y="1244.2" text-anchor="middle" font-size="63">0</text>
<line x1="653.7" y1="1165.3" x2="653.7" y2="1174.8" stroke="#000" stroke-width="3"/>
<line x1="653.7" y1="179.3" x2="653.7" y2="186.8" stroke="#000" stroke-width="3"/>
<line x1="781.2" y1="1165.3" x2="781.2" y2="1186.3" stroke="#000" stroke-width="3"/>
<line x1="781.2" y1="179.3" x2="781.2" y2="196.3" stroke="#000" stroke-width="3"/>
<text x="779.7" y="1244.2" text-anchor="middle" font-size="63">200</text>
<line x1="908.6" y1="1165.3" x2="908.6" y2="1174.8" stroke="#000" stroke-width="3"/>
<line x1="908.6" y1="179.3" x2="908.6" y2="186.8" stroke="#000" stroke-width="3"/>
<line x1="1036.1" y1="1165.3" x2="1036.1" y2="1186.3" stroke="#000" stroke-width="3"/>
<line x1="1036.1" y1="179.3" x2="1036.1" y2="196.3" stroke="#000" stroke-width="3"/>
<text x="1034.6" y="1244.2" text-anchor="middle" font-size="63">400</text>
<line x1="1163.5" y1="1165.3" x2="1163.5" y2="1174.8" stroke="#000" stroke-width="3"/>
<line x1="1163.5" y1="179.3" x2="1163.5" y2="186.8" stroke="#000" stroke-width="3"/>
<line x1="1291" y1="1165.3" x2="1291" y2="1186.3" stroke="#000" stroke-width="3"/>
<line x1="1291" y1="179.3" x2="1291" y2="196.3" stroke="#000" stroke-width="3"/>
<text x="1289.5" y="1244.2" text-anchor="middle" font-size="63">600</text>
<line x1="1418.4" y1="1165.3" x2="1418.4" y2="1174.8" stroke="#000" stroke-width="3"/>
<line x1="1418.4" y1="179.3" x2="1418.4" y2="186.8" stroke="#000" stroke-width="3"/>
<line x1="1545.9" y1="1165.3" x2="1545.9" y2="1186.3" stroke="#000" stroke-width="3"/>
<line x1="1545.9" y1="179.3" x2="1545.9" y2="196.3" stroke="#000" stroke-width="3"/>
<text x="1544.4" y="1244.2" text-anchor="middle" font-size="63">800</text>
<line x1="1673.6" y1="1165.3" x2="1673.6" y2="1174.8" stroke="#000" stroke-width="3"/>
<line x1="1673.6" y1="179.3" x2="1673.6" y2="186.8" stroke="#000" stroke-width="3"/>
<line x1="258.8" y1="1165.3" x2="271.3" y2="1165.3" stroke="#000" stroke-width="3"/>
<line x1="1664.1" y1="1165.3" x2="1673.6" y2="1165.3" stroke="#000" stroke-width="3"/>
<line x1="250.3" y1="1082.5" x2="271.3" y2="1082.5" stroke="#000" stroke-width="3"/>
<line x1="1656.1" y1="1082.5" x2="1673.6" y2="1082.5" stroke="#000" stroke-width="3"/>
<text x="236" y="1098.5" text-anchor="end" font-size="63">0</text>
<line x1="258.8" y1="1000.3" x2="271.3" y2="1000.3" stroke="#000" stroke-width="3"/>
<line x1="1664.1" y1="1000.3" x2="1673.6" y2="1000.3" stroke="#000" stroke-width="3"/>
<line x1="250.3" y1="918.2" x2="271.3" y2="918.2" stroke="#000" stroke-width="3"/>
<line x1="1656.1" y1="918.2" x2="1673.6" y2="918.2" stroke="#000" stroke-width="3"/>
<text x="236" y="934.2" text-anchor="end" font-size="63">10</text>
<line x1="258.8" y1="836" x2="271.3" y2="836" stroke="#000" stroke-width="3"/>
<line x1="1664.1" y1="836" x2="1673.6" y2="836" stroke="#000" stroke-width="3"/>
<line x1="250.3" y1="753.8" x2="271.3" y2="753.8" stroke="#000" stroke-width="3"/>
<line x1="1656.1" y1="753.8" x2="1673.6" y2="753.8" stroke="#000" stroke-width="3"/>
<text x="236" y="769.8" text-anchor="end" font-size="63">20</text>
<line x1="258.8" y1="671.7" x2="271.3" y2="671.7" stroke="#000" stroke-width="3"/>
<line x1="1664.1" y1="671.7" x2="1673.6" y2="671.7" stroke="#000" stroke-width="3"/>
<line x1="250.3" y1="589.5" x2="271.3" y2="589.5" stroke="#000" stroke-width="3"/>
<line x1="1656.1" y1="589.5" x2="1673.6" y2="589.5" stroke="#000" stroke-width="3"/>
<text x="236" y="605.5" text-anchor="end" font-size="63">30</text>
<line x1="258.8" y1="507.4" x2="271.3" y2="507.4" stroke="#000" stroke-width="3"/>
<line x1="1664.1" y1="507.4" x2="1673.6" y2="507.4" stroke="#000" stroke-width="3"/>
<line x1="250.3" y1="425.2" x2="271.3" y2="425.2" stroke="#000" stroke-width="3"/>
<line x1="1656.1" y1="425.2" x2="1673.6" y2="425.2" stroke="#000" stroke-width="3"/>
<text x="236" y="441.2" text-anchor="end" font-size="63">40</text>
<line x1="258.8" y1="343" x2="271.3" y2="343" stroke="#000" stroke-width="3"/>
<line x1="1664.1" y1="343" x2="1673.6" y2="343" stroke="#000" stroke-width="3"/>
<line x1="250.3" y1="260.9" x2="271.3" y2="260.9" stroke="#000" stroke-width="3"/>
<line x1="1656.1" y1="260.9" x2="1673.6" y2="260.9" stroke="#000" stroke-width="3"/>
<text x="236" y="276.9" text-anchor="end" font-size="63">50</text>
<line x1="258.8" y1="179.3" x2="271.3" y2="179.3" stroke="#000" stroke-width="3"/>
<line x1="1664.1" y1="179.3" x2="1673.6" y2="179.3" stroke="#000" stroke-width="3"/>
<text x="1030.5" y="1345.5" font-size="77" text-anchor="middle" letter-spacing="1.3">height (&#956;m)</text>
<text transform="translate(91 662) rotate(-90)" font-size="79.4" text-anchor="middle">NMR Signal (arb. units)</text>
<path d="M63.5 1340.6C50 1365.4 50 1401.2 63.5 1426L70.5 1426C58 1401.2 58 1365.4 70.5 1340.6Z" fill="#000"/>
<path d="M138.3 1340.6C151.8 1365.4 151.8 1401.2 138.3 1426L131.3 1426C143.8 1401.2 143.8 1365.4 131.3 1340.6Z" fill="#000"/>
<text transform="translate(78.5 1410) scale(0.8 1)" font-size="90">a</text>
<rect x="1707.5" y="23.3" width="351.7" height="1362.3" fill="#fff" stroke="#000" stroke-width="3"/>
<path d="M1728.3 56.5H1764.7M1801 56.5H1837.5" stroke="#000000" stroke-width="2.4"/>
<rect x="1773.2" y="47" width="19.5" height="19" fill="#000000"/>
<text x="1849" y="71.3" font-size="45" letter-spacing="1.8">52 min</text>
<path d="M1728.3 115.4H1764.7M1801 115.4H1837.5" stroke="#FF0000" stroke-width="2.4"/>
<circle cx="1782.9" cy="115.4" r="9.8" fill="#FF0000"/>
<text x="1849" y="130.2" font-size="45" letter-spacing="1.8">128 min</text>
<path d="M1728.3 174.4H1764.7M1801 174.4H1837.5" stroke="#00FF00" stroke-width="2.4"/>
<path d="M1782.9 161.9 L1797.2 186.9 L1768.7 186.9Z" fill="#00FF00"/>
<text x="1849" y="189.2" font-size="45" letter-spacing="1.8">203 min</text>
<path d="M1728.3 233.3H1764.7M1801 233.3H1837.5" stroke="#0000FF" stroke-width="2.4"/>
<path d="M1782.9 245.8 L1797.2 220.8 L1768.7 220.8Z" fill="#0000FF"/>
<text x="1849" y="248.1" font-size="45" letter-spacing="1.8">277 min</text>
<path d="M1728.3 292.3H1764.7M1801 292.3H1837.5" stroke="#00FFFF" stroke-width="2.4"/>
<path d="M1782.9 278 L1797.2 292.3 L1782.9 306.6 L1768.6 292.3Z" fill="#00FFFF"/>
<text x="1849" y="307.1" font-size="45" letter-spacing="1.8">357 min</text>
<path d="M1728.3 351.2H1764.7M1801 351.2H1837.5" stroke="#FF00FF" stroke-width="2.4"/>
<path d="M1770.4 351.2 L1792.9 337.7 L1792.9 364.7Z" fill="#FF00FF"/>
<text x="1849" y="366" font-size="45" letter-spacing="1.8">422 min</text>
<path d="M1728.3 410.1H1764.7M1801 410.1H1837.5" stroke="#FF8000" stroke-width="2.4"/>
<path d="M1795.4 410.1 L1772.9 396.6 L1772.9 423.6Z" fill="#FF8000"/>
<text x="1849" y="424.9" font-size="45" letter-spacing="1.8">482 min</text>
<path d="M1728.3 469.1H1764.7M1801 469.1H1837.5" stroke="#808000" stroke-width="2.4"/>
<path d="M1794.4 464.3 L1794.4 473.9 L1787.7 480.6 L1778.1 480.6 L1771.4 473.9 L1771.4 464.3 L1778.1 457.5 L1787.7 457.5Z" fill="#808000"/>
<text x="1849" y="483.9" font-size="45" letter-spacing="1.8">545 min</text>
<path d="M1728.3 528H1764.7M1801 528H1837.5" stroke="#000080" stroke-width="2.4"/>
<path d="M1782.9 514.5 L1786.5 523 L1795.7 523.8 L1788.8 529.9 L1790.8 538.9 L1782.9 534.2 L1775 538.9 L1777 529.9 L1770.1 523.8 L1779.3 523Z" fill="#000080"/>
<text x="1849" y="542.8" font-size="45" letter-spacing="1.8">594 min</text>
<path d="M1728.3 587H1764.7M1801 587H1837.5" stroke="#800080" stroke-width="2.4"/>
<path d="M1782.9 574 L1795.3 582.9 L1790.5 597.5 L1775.3 597.5 L1770.5 582.9Z" fill="#800080"/>
<text x="1849" y="601.8" font-size="45" letter-spacing="1.8">638 min</text>
<path d="M1728.3 645.9H1764.7M1801 645.9H1837.5" stroke="#800000" stroke-width="2.4"/>
<circle cx="1782.9" cy="645.9" r="10" fill="#800000"/>
<text x="1849" y="660.7" font-size="45" letter-spacing="1.8">674 min</text>
<path d="M1728.3 704.8H1764.7M1801 704.8H1837.5" stroke="#008000" stroke-width="2.4"/>
<rect x="1775.7" y="696.3" width="14.4" height="17" fill="#fff" stroke="#008000" stroke-width="2.6"/>
<text x="1849" y="719.6" font-size="45" letter-spacing="1.8">737 min</text>
<path d="M1728.3 763.8H1764.7M1801 763.8H1837.5" stroke="#008080" stroke-width="2.4"/>
<ellipse cx="1782.9" cy="763.8" rx="8.3" ry="8.7" fill="#fff" stroke="#008080" stroke-width="2.6"/>
<text x="1849" y="778.6" font-size="45" letter-spacing="1.8">791 min</text>
<path d="M1728.3 822.7H1764.7M1801 822.7H1837.5" stroke="#0000A0" stroke-width="2.4"/>
<path d="M1782.9 811.7 L1795.2 833.7 L1770.6 833.7Z" fill="#fff" stroke="#0000A0" stroke-width="2.6"/>
<text x="1849" y="837.5" font-size="45" letter-spacing="1.8">826 min</text>
<path d="M1728.3 881.7H1764.7M1801 881.7H1837.5" stroke="#808080" stroke-width="2.4"/>
<path d="M1782.9 892.7 L1795.2 870.7 L1770.6 870.7Z" fill="#fff" stroke="#808080" stroke-width="2.6"/>
<text x="1849" y="896.5" font-size="45" letter-spacing="1.8">859 min</text>
<path d="M1728.3 940.6H1764.7M1801 940.6H1837.5" stroke="#8000FF" stroke-width="2.4"/>
<path d="M1782.9 928.1 L1796.4 940.6 L1782.9 953.1 L1769.4 940.6Z" fill="#fff" stroke="#8000FF" stroke-width="2.6"/>
<text x="1849" y="955.4" font-size="45" letter-spacing="1.8">888 min</text>
<path d="M1728.3 999.5H1764.7M1801 999.5H1837.5" stroke="#FF0080" stroke-width="2.4"/>
<path d="M1771.4 999.5 L1792.9 986.5 L1792.9 1012.5Z" fill="#fff" stroke="#FF0080" stroke-width="2.6"/>
<text x="1849" y="1014.3" font-size="45" letter-spacing="1.8">936 min</text>
<path d="M1728.3 1058.5H1764.7M1801 1058.5H1837.5" stroke="#000000" stroke-width="2.4"/>
<path d="M1792.9 1058.5 L1773.4 1046.5 L1773.4 1070.5Z" fill="#fff" stroke="#000000" stroke-width="2.6"/>
<text x="1849" y="1073.3" font-size="45" letter-spacing="1.8">978 min</text>
<path d="M1728.3 1117.4H1764.7M1801 1117.4H1837.5" stroke="#FF0000" stroke-width="2.4"/>
<path d="M1792.6 1113.4 L1792.6 1121.4 L1786.9 1127.1 L1778.9 1127.1 L1773.2 1121.4 L1773.2 1113.4 L1778.9 1107.7 L1786.9 1107.7Z" fill="#fff" stroke="#FF0000" stroke-width="2.6"/>
<text x="1849" y="1132.2" font-size="45" letter-spacing="1.8">994 min</text>
<path d="M1728.3 1176.4H1764.7M1801 1176.4H1837.5" stroke="#00FF00" stroke-width="2.4"/>
<path d="M1782.9 1163.9 L1786.1 1171.9 L1794.8 1172.5 L1788.1 1178.1 L1790.2 1186.5 L1782.9 1181.9 L1775.6 1186.5 L1777.7 1178.1 L1771 1172.5 L1779.7 1171.9Z" fill="#fff" stroke="#00FF00" stroke-width="2.6"/>
<text x="1849" y="1191.2" font-size="45" letter-spacing="1.8">1018 min</text>
<path d="M1728.3 1235.3H1764.7M1801 1235.3H1837.5" stroke="#0000FF" stroke-width="2.4"/>
<rect x="1773.4" y="1227.3" width="19" height="16" fill="#0000FF"/><rect x="1777.4" y="1237.5" width="11" height="3.6" fill="#fff"/>
<text x="1849" y="1250.1" font-size="45" letter-spacing="1.8">1062 min</text>
<path d="M1728.3 1294.2H1764.7M1801 1294.2H1837.5" stroke="#00FFFF" stroke-width="2.4"/>
<circle cx="1782.9" cy="1294.2" r="9.8" fill="#00FFFF"/><path d="M1776.9 1295.7H1788.9L1784.9 1300.2H1780.9Z" fill="#fff"/>
<text x="1849" y="1309" font-size="45" letter-spacing="1.8">1244 min</text>
<path d="M1728.3 1353.2H1764.7M1801 1353.2H1837.5" stroke="#FF00FF" stroke-width="2.4"/>
<path d="M1782.9 1340.7 L1795.9 1365.7 L1769.9 1365.7Z" fill="#FF00FF"/><rect x="1774.4" y="1358.2" width="17" height="3.6" fill="#fff"/>
<text x="1849" y="1368" font-size="45" letter-spacing="1.8">1545 min</text>
<path d="M353.8 2572.3L429.6 2570M461.5 2567.9L537.5 2559.8M555.6 2542.3L659.1 1783.4M676.6 1772L753.6 1794.1M784.1 1793.2L861.7 1765.9M892.8 1762.1L968.7 1769.3M999.8 1775.9L1077.3 1801.7M1108.4 1806.2L1184.3 1803.9M1215.8 1799.5L1292.6 1779.7M1323.9 1778.1L1400.1 1789.6M1431.9 1791.8L1507.7 1790.7M1539.7 1790.1L1615.5 1788.5" fill="none" stroke="#000000" stroke-width="2.7"/>
<rect x="328" y="2563.3" width="19.5" height="19" fill="#000000"/>
<rect x="435.8" y="2560" width="19.5" height="19" fill="#000000"/>
<rect x="543.7" y="2548.6" width="19.5" height="19" fill="#000000"/>
<rect x="651.5" y="1758.1" width="19.5" height="19" fill="#000000"/>
<rect x="759.3" y="1789.1" width="19.5" height="19" fill="#000000"/>
<rect x="867.1" y="1751.1" width="19.5" height="19" fill="#000000"/>
<rect x="974.9" y="1761.3" width="19.5" height="19" fill="#000000"/>
<rect x="1082.7" y="1797.2" width="19.5" height="19" fill="#000000"/>
<rect x="1190.5" y="1793.9" width="19.5" height="19" fill="#000000"/>
<rect x="1298.3" y="1766.2" width="19.5" height="19" fill="#000000"/>
<rect x="1406.1" y="1782.5" width="19.5" height="19" fill="#000000"/>
<rect x="1513.9" y="1780.9" width="19.5" height="19" fill="#000000"/>
<rect x="1621.8" y="1778.6" width="19.5" height="19" fill="#000000"/>
<path d="M353.7 2573L429.7 2566.1M461.5 2563L537.5 2554.9M555.6 2537.4L659.1 1773.7M677.1 1759.9L753.2 1769.9M784.9 1773.6L860.9 1781.2M892.8 1783.4L968.7 1786.5M1000.6 1786.9L1076.5 1785.8M1108.5 1785.4L1184.3 1784.5M1216.3 1784.1L1292.1 1782.6M1324.1 1781.7L1399.9 1778.8M1431.6 1781.2L1508 1795.6M1538.3 1805.1L1616.9 1840.1" fill="none" stroke="#FF0000" stroke-width="2.7"/>
<circle cx="337.8" cy="2574.4" r="9.8" fill="#FF0000"/>
<circle cx="445.6" cy="2564.7" r="9.8" fill="#FF0000"/>
<circle cx="553.4" cy="2553.2" r="9.8" fill="#FF0000"/>
<circle cx="661.2" cy="1757.8" r="9.8" fill="#FF0000"/>
<circle cx="769" cy="1772" r="9.8" fill="#FF0000"/>
<circle cx="876.8" cy="1782.7" r="9.8" fill="#FF0000"/>
<circle cx="984.6" cy="1787.1" r="9.8" fill="#FF0000"/>
<circle cx="1092.5" cy="1785.5" r="9.8" fill="#FF0000"/>
<circle cx="1200.3" cy="1784.4" r="9.8" fill="#FF0000"/>
<circle cx="1308.1" cy="1782.3" r="9.8" fill="#FF0000"/>
<circle cx="1415.9" cy="1778.2" r="9.8" fill="#FF0000"/>
<circle cx="1523.7" cy="1798.6" r="9.8" fill="#FF0000"/>
<circle cx="1631.5" cy="1846.6" r="9.8" fill="#FF0000"/>
<path d="M352.8 2583.7L430.5 2555.9M461.6 2549.7L537.4 2545.9M555.6 2529.2L659 1771.5M676.8 1759.3L753.4 1777M785 1781.6L860.9 1786.2M892.8 1787.6L968.7 1789.9M1000.5 1788.1L1076.6 1777.2M1108.2 1777.9L1184.5 1792.3M1216.2 1793.9L1292.1 1787M1324 1787L1400 1793.9M1431.2 1799.9L1508.4 1823.3M1533.5 1840.5L1621.7 1953.8" fill="none" stroke="#00FF00" stroke-width="2.7"/>
<path d="M337.8 2576.6 L352 2601.6 L323.5 2601.6Z" fill="#00FF00"/>
<path d="M445.6 2538 L459.8 2563 L431.3 2563Z" fill="#00FF00"/>
<path d="M553.4 2532.6 L567.7 2557.6 L539.2 2557.6Z" fill="#00FF00"/>
<path d="M661.2 1743.2 L675.5 1768.2 L647 1768.2Z" fill="#00FF00"/>
<path d="M769 1768.1 L783.3 1793.1 L754.8 1793.1Z" fill="#00FF00"/>
<path d="M876.8 1774.6 L891.1 1799.6 L862.6 1799.6Z" fill="#00FF00"/>
<path d="M984.6 1777.9 L998.9 1802.9 L970.4 1802.9Z" fill="#00FF00"/>
<path d="M1092.5 1762.4 L1106.7 1787.4 L1078.2 1787.4Z" fill="#00FF00"/>
<path d="M1200.3 1782.8 L1214.5 1807.8 L1186 1807.8Z" fill="#00FF00"/>
<path d="M1308.1 1773 L1322.3 1798 L1293.8 1798Z" fill="#00FF00"/>
<path d="M1415.9 1782.8 L1430.1 1807.8 L1401.6 1807.8Z" fill="#00FF00"/>
<path d="M1523.7 1815.4 L1537.9 1840.4 L1509.4 1840.4Z" fill="#00FF00"/>
<path d="M1631.5 1953.9 L1645.8 1978.9 L1617.3 1978.9Z" fill="#00FF00"/>
<path d="M353.8 2570.5L375.7 2571.8M407.7 2573.3L429.6 2574M461.4 2576.8L483.7 2580.2M511.7 2572.3L541.2 2547.3M555.5 2521.1L605.3 2136.4M609.8 2104.7L658.7 1799.7M677 1786.7L699.4 1790.8M731 1795.6L753.1 1798.3M785 1799L807 1797.3M838.9 1797.3L860.9 1799M892.8 1800.7L914.7 1801.3M946.1 1797.2L969.3 1790.2M999.7 1791L1023.5 1799.6M1053.7 1800L1077.3 1792.2M1107.9 1791.4L1130.9 1797.6M1162.2 1799.6L1184.4 1796.5M1216.1 1796.5L1238.3 1799.6M1269.1 1807.7L1293.2 1817.2M1324.1 1822.5L1346 1821.9M1377.3 1826L1400.6 1833M1425.4 1850.6L1460.3 1898.1M1479.9 1923.4L1513.6 1965M1534.4 1989.2L1566.9 2025M1586.8 2050L1622.3 2100.5" fill="none" stroke="#0000FF" stroke-width="2.7"/>
<path d="M337.8 2582 L352 2557 L323.5 2557Z" fill="#0000FF"/>
<path d="M391.7 2585.3 L405.9 2560.3 L377.4 2560.3Z" fill="#0000FF"/>
<path d="M445.6 2586.9 L459.8 2561.9 L431.3 2561.9Z" fill="#0000FF"/>
<path d="M499.5 2595.1 L513.8 2570.1 L485.2 2570.1Z" fill="#0000FF"/>
<path d="M553.4 2549.4 L567.7 2524.4 L539.2 2524.4Z" fill="#0000FF"/>
<path d="M607.3 2133 L621.6 2108 L593.1 2108Z" fill="#0000FF"/>
<path d="M661.2 1796.4 L675.5 1771.4 L647 1771.4Z" fill="#0000FF"/>
<path d="M715.1 1806.2 L729.4 1781.2 L700.9 1781.2Z" fill="#0000FF"/>
<path d="M769 1812.7 L783.3 1787.7 L754.8 1787.7Z" fill="#0000FF"/>
<path d="M822.9 1808.6 L837.2 1783.6 L808.7 1783.6Z" fill="#0000FF"/>
<path d="M876.8 1812.7 L891.1 1787.7 L862.6 1787.7Z" fill="#0000FF"/>
<path d="M930.7 1814.3 L945 1789.3 L916.5 1789.3Z" fill="#0000FF"/>
<path d="M984.6 1798 L998.9 1773 L970.4 1773Z" fill="#0000FF"/>
<path d="M1038.6 1817.6 L1052.8 1792.6 L1024.3 1792.6Z" fill="#0000FF"/>
<path d="M1092.5 1799.6 L1106.7 1774.6 L1078.2 1774.6Z" fill="#0000FF"/>
<path d="M1146.4 1814.3 L1160.6 1789.3 L1132.1 1789.3Z" fill="#0000FF"/>
<path d="M1200.3 1806.8 L1214.5 1781.8 L1186 1781.8Z" fill="#0000FF"/>
<path d="M1254.2 1814.3 L1268.4 1789.3 L1239.9 1789.3Z" fill="#0000FF"/>
<path d="M1308.1 1835.5 L1322.3 1810.5 L1293.8 1810.5Z" fill="#0000FF"/>
<path d="M1362 1833.9 L1376.2 1808.9 L1347.7 1808.9Z" fill="#0000FF"/>
<path d="M1415.9 1850.2 L1430.1 1825.2 L1401.6 1825.2Z" fill="#0000FF"/>
<path d="M1469.8 1923.5 L1484 1898.5 L1455.5 1898.5Z" fill="#0000FF"/>
<path d="M1523.7 1989.9 L1537.9 1964.9 L1509.4 1964.9Z" fill="#0000FF"/>
<path d="M1577.6 2049.4 L1591.9 2024.4 L1563.4 2024.4Z" fill="#0000FF"/>
<path d="M1631.5 2126.1 L1645.8 2101.1 L1617.3 2101.1Z" fill="#0000FF"/>
<path d="M353.7 2569.8L375.8 2572.5M407.3 2570.9L430 2565.9M461.6 2561.8L483.5 2561M513.7 2553L539.2 2539.5M555.8 2516.2L604.9 2194.2M609.4 2162.5L659.1 1786.7M675.7 1777.6L700.6 1789.1M731 1798L753.2 1801.2M784.8 1805.8L807.1 1809.2M838.9 1810.6L860.9 1809.3M892.8 1807.2L914.8 1805.6M946.6 1806.5L968.8 1809.5M1000.5 1809.8L1022.7 1807.2M1054.6 1805.4L1076.5 1805.4M1108.4 1807.2L1130.5 1809.8M1162.3 1813L1184.3 1815M1216.1 1814L1238.4 1810.4M1265.9 1818.7L1296.3 1846.6M1317.2 1870.6L1352.9 1922.2M1370.4 1948.9L1407.4 2008.3M1427.6 2032.7L1458 2060.7M1479.4 2084.4L1514.1 2130.5M1531.9 2157L1569.4 2220M1589.3 2244.7L1619.8 2273.4" fill="none" stroke="#00FFFF" stroke-width="2.7"/>
<path d="M337.8 2553.6 L352.1 2567.9 L337.8 2582.2 L323.5 2567.9Z" fill="#00FFFF"/>
<path d="M391.7 2560.1 L406 2574.4 L391.7 2588.7 L377.4 2574.4Z" fill="#00FFFF"/>
<path d="M445.6 2548.1 L459.9 2562.4 L445.6 2576.7 L431.3 2562.4Z" fill="#00FFFF"/>
<path d="M499.5 2546.1 L513.8 2560.4 L499.5 2574.7 L485.2 2560.4Z" fill="#00FFFF"/>
<path d="M553.4 2517.8 L567.7 2532.1 L553.4 2546.4 L539.1 2532.1Z" fill="#00FFFF"/>
<path d="M607.3 2164 L621.6 2178.3 L607.3 2192.7 L593 2178.3Z" fill="#00FFFF"/>
<path d="M661.2 1756.5 L675.5 1770.8 L661.2 1785.1 L646.9 1770.8Z" fill="#00FFFF"/>
<path d="M715.1 1781.5 L729.4 1795.8 L715.1 1810.1 L700.8 1795.8Z" fill="#00FFFF"/>
<path d="M769 1789.1 L783.3 1803.4 L769 1817.7 L754.7 1803.4Z" fill="#00FFFF"/>
<path d="M822.9 1797.3 L837.2 1811.6 L822.9 1825.9 L808.6 1811.6Z" fill="#00FFFF"/>
<path d="M876.8 1794 L891.1 1808.3 L876.8 1822.6 L862.5 1808.3Z" fill="#00FFFF"/>
<path d="M930.7 1790.1 L945 1804.4 L930.7 1818.7 L916.4 1804.4Z" fill="#00FFFF"/>
<path d="M984.6 1797.3 L998.9 1811.6 L984.6 1825.9 L970.3 1811.6Z" fill="#00FFFF"/>
<path d="M1038.6 1791.1 L1052.9 1805.4 L1038.6 1819.7 L1024.3 1805.4Z" fill="#00FFFF"/>
<path d="M1092.5 1791.1 L1106.8 1805.4 L1092.5 1819.7 L1078.2 1805.4Z" fill="#00FFFF"/>
<path d="M1146.4 1797.3 L1160.7 1811.6 L1146.4 1825.9 L1132.1 1811.6Z" fill="#00FFFF"/>
<path d="M1200.3 1802.2 L1214.6 1816.5 L1200.3 1830.8 L1186 1816.5Z" fill="#00FFFF"/>
<path d="M1254.2 1793.6 L1268.5 1807.9 L1254.2 1822.2 L1239.9 1807.9Z" fill="#00FFFF"/>
<path d="M1308.1 1843.1 L1322.4 1857.4 L1308.1 1871.7 L1293.8 1857.4Z" fill="#00FFFF"/>
<path d="M1362 1921 L1376.3 1935.3 L1362 1949.6 L1347.7 1935.3Z" fill="#00FFFF"/>
<path d="M1415.9 2007.6 L1430.2 2021.9 L1415.9 2036.2 L1401.6 2021.9Z" fill="#00FFFF"/>
<path d="M1469.8 2057.3 L1484.1 2071.6 L1469.8 2085.9 L1455.5 2071.6Z" fill="#00FFFF"/>
<path d="M1523.7 2129 L1538 2143.3 L1523.7 2157.6 L1509.4 2143.3Z" fill="#00FFFF"/>
<path d="M1577.6 2219.5 L1591.9 2233.8 L1577.6 2248.1 L1563.3 2233.8Z" fill="#00FFFF"/>
<path d="M1631.5 2270 L1645.8 2284.3 L1631.5 2298.6 L1617.2 2284.3Z" fill="#00FFFF"/>
<path d="M353.8 2570L375.7 2570.7M407.7 2570.3L429.6 2569.1M461.5 2570L483.6 2572.5M513.2 2566L539.7 2550.1M555.9 2526L604.8 2219.4M609.3 2187.7L659.2 1796.5M674.7 1789.3L701.7 1806.7M730.3 1810.2L753.9 1802.1M785 1796.4L806.9 1795.8M838.8 1793.4L861 1790.7M891.2 1795.9L916.4 1808.3M946.4 1811.9L969 1806.9M1000 1798.8L1023.2 1791.8M1051.6 1796.4L1079.4 1816.1M1108.5 1824.9L1130.4 1824.4M1158.7 1834.2L1187.9 1858.4M1208.6 1882.3L1245.8 1943M1263.9 1969.4L1298.3 2014.2M1318.5 2039.1L1351.6 2077.8M1370.1 2103.8L1407.8 2167.8M1425.8 2194.2L1459.9 2237.2M1481 2261.1L1512.4 2292.8M1534.4 2316L1566.9 2351.8M1590.1 2373.7L1619 2396.9" fill="none" stroke="#FF00FF" stroke-width="2.7"/>
<path d="M325.3 2569.5 L347.8 2556 L347.8 2583Z" fill="#FF00FF"/>
<path d="M379.2 2571.2 L401.7 2557.7 L401.7 2584.7Z" fill="#FF00FF"/>
<path d="M433.1 2568.2 L455.6 2554.7 L455.6 2581.7Z" fill="#FF00FF"/>
<path d="M487 2574.3 L509.5 2560.8 L509.5 2587.8Z" fill="#FF00FF"/>
<path d="M540.9 2541.8 L563.4 2528.3 L563.4 2555.3Z" fill="#FF00FF"/>
<path d="M594.8 2203.6 L617.3 2190.1 L617.3 2217.1Z" fill="#FF00FF"/>
<path d="M648.7 1780.6 L671.2 1767.1 L671.2 1794.1Z" fill="#FF00FF"/>
<path d="M702.6 1815.3 L725.1 1801.8 L725.1 1828.8Z" fill="#FF00FF"/>
<path d="M756.5 1796.9 L779 1783.4 L779 1810.4Z" fill="#FF00FF"/>
<path d="M810.4 1795.3 L832.9 1781.8 L832.9 1808.8Z" fill="#FF00FF"/>
<path d="M864.3 1788.8 L886.8 1775.3 L886.8 1802.3Z" fill="#FF00FF"/>
<path d="M918.2 1815.3 L940.7 1801.8 L940.7 1828.8Z" fill="#FF00FF"/>
<path d="M972.1 1803.4 L994.6 1789.9 L994.6 1816.9Z" fill="#FF00FF"/>
<path d="M1026.1 1787.1 L1048.6 1773.6 L1048.6 1800.6Z" fill="#FF00FF"/>
<path d="M1080 1825.3 L1102.5 1811.8 L1102.5 1838.8Z" fill="#FF00FF"/>
<path d="M1133.9 1824 L1156.4 1810.5 L1156.4 1837.5Z" fill="#FF00FF"/>
<path d="M1187.8 1868.6 L1210.3 1855.1 L1210.3 1882.1Z" fill="#FF00FF"/>
<path d="M1241.7 1956.7 L1264.2 1943.2 L1264.2 1970.2Z" fill="#FF00FF"/>
<path d="M1295.6 2026.9 L1318.1 2013.4 L1318.1 2040.4Z" fill="#FF00FF"/>
<path d="M1349.5 2090 L1372 2076.5 L1372 2103.5Z" fill="#FF00FF"/>
<path d="M1403.4 2181.6 L1425.9 2168.1 L1425.9 2195.1Z" fill="#FF00FF"/>
<path d="M1457.3 2249.7 L1479.8 2236.2 L1479.8 2263.2Z" fill="#FF00FF"/>
<path d="M1511.2 2304.2 L1533.7 2290.7 L1533.7 2317.7Z" fill="#FF00FF"/>
<path d="M1565.1 2363.7 L1587.6 2350.2 L1587.6 2377.2Z" fill="#FF00FF"/>
<path d="M1619 2406.9 L1641.5 2393.4 L1641.5 2420.4Z" fill="#FF00FF"/>
<path d="M353.7 2578L375.8 2580.7M407.7 2583.1L429.6 2583.7M461 2580L484.1 2573.8M514.8 2564.9L538.1 2557.9M556 2537.5L604.8 2236.2M609.3 2204.5L659.2 1809.5M674.5 1802.5L701.8 1820.7M730.9 1826.7L753.3 1822.6M785 1819.1L806.9 1818.1M838.8 1815.7L860.9 1813.3M892.7 1814L914.9 1817.4M946.4 1816.3L969 1811.3M996.7 1818.4L1026.5 1844.4M1049.6 1866.6L1081.4 1900.2M1101.8 1924.9L1137.1 1974.3M1155.2 2000.7L1191.5 2055.8M1210.7 2081.3L1243.8 2120.1M1263.7 2145.1L1298.6 2192.4M1318.1 2217.7L1351.9 2259.6M1370.8 2285.4L1407.1 2340.4M1427 2365.2L1458.7 2397.8M1480.8 2421L1512.7 2454.9M1538.2 2473.2L1563.1 2484.6M1588.3 2503.2L1620.8 2539.7" fill="none" stroke="#FF8000" stroke-width="2.7"/>
<path d="M350.3 2576.1 L327.8 2562.6 L327.8 2589.6Z" fill="#FF8000"/>
<path d="M404.2 2582.6 L381.7 2569.1 L381.7 2596.1Z" fill="#FF8000"/>
<path d="M458.1 2584.2 L435.6 2570.7 L435.6 2597.7Z" fill="#FF8000"/>
<path d="M512 2569.5 L489.5 2556 L489.5 2583Z" fill="#FF8000"/>
<path d="M565.9 2553.2 L543.4 2539.8 L543.4 2566.8Z" fill="#FF8000"/>
<path d="M619.8 2220.4 L597.3 2206.9 L597.3 2233.9Z" fill="#FF8000"/>
<path d="M673.7 1793.7 L651.2 1780.2 L651.2 1807.2Z" fill="#FF8000"/>
<path d="M727.6 1829.5 L705.1 1816 L705.1 1843Z" fill="#FF8000"/>
<path d="M781.5 1819.7 L759 1806.2 L759 1833.2Z" fill="#FF8000"/>
<path d="M835.4 1817.5 L812.9 1804 L812.9 1831Z" fill="#FF8000"/>
<path d="M889.3 1811.6 L866.8 1798.1 L866.8 1825.1Z" fill="#FF8000"/>
<path d="M943.2 1819.7 L920.7 1806.2 L920.7 1833.2Z" fill="#FF8000"/>
<path d="M997.1 1807.9 L974.6 1794.4 L974.6 1821.4Z" fill="#FF8000"/>
<path d="M1051.1 1855 L1028.6 1841.5 L1028.6 1868.5Z" fill="#FF8000"/>
<path d="M1105 1911.8 L1082.5 1898.3 L1082.5 1925.3Z" fill="#FF8000"/>
<path d="M1158.9 1987.3 L1136.4 1973.8 L1136.4 2000.8Z" fill="#FF8000"/>
<path d="M1212.8 2069.1 L1190.3 2055.6 L1190.3 2082.6Z" fill="#FF8000"/>
<path d="M1266.7 2132.2 L1244.2 2118.7 L1244.2 2145.7Z" fill="#FF8000"/>
<path d="M1320.6 2205.2 L1298.1 2191.7 L1298.1 2218.7Z" fill="#FF8000"/>
<path d="M1374.5 2272.1 L1352 2258.6 L1352 2285.6Z" fill="#FF8000"/>
<path d="M1428.4 2353.7 L1405.9 2340.2 L1405.9 2367.2Z" fill="#FF8000"/>
<path d="M1482.3 2409.3 L1459.8 2395.8 L1459.8 2422.8Z" fill="#FF8000"/>
<path d="M1536.2 2466.5 L1513.7 2453 L1513.7 2480Z" fill="#FF8000"/>
<path d="M1590.1 2491.3 L1567.6 2477.8 L1567.6 2504.8Z" fill="#FF8000"/>
<path d="M1644 2551.6 L1621.5 2538.1 L1621.5 2565.1Z" fill="#FF8000"/>
<path d="M353.8 2584.8L375.7 2585.5M407.7 2586.6L429.6 2587.5M458.4 2578.5L486.7 2557.2M515.5 2547.8L537.4 2548.1M556.3 2532.6L604.4 2267.8M609.2 2236.1L659.3 1822.6M675.4 1814.1L700.9 1827.4M730.4 1829.9L753.8 1822.4M784.2 1822.7L807.8 1830.8M838.9 1836.6L860.8 1837.4M892.8 1838.6L914.8 1839.4M943.1 1850.2L972.3 1874.4M992.5 1898.5L1030.7 1965.9M1047.6 1993L1083.5 2045.8M1103.6 2070.6L1135.3 2103.4M1155.5 2128.1L1191.2 2179.7M1209 2206.3L1245.4 2262.3M1263.1 2289L1299.2 2342.9M1321.9 2364.2L1348.1 2379.2M1371.7 2399.9L1406.2 2444.9M1429.6 2465.8L1456.1 2481.6M1481.7 2500.5L1511.7 2527.1M1537 2546.6L1564.3 2564.6" fill="none" stroke="#808000" stroke-width="2.7"/>
<path d="M349.3 2579.4 L349.3 2589 L342.6 2595.8 L333 2595.8 L326.2 2589 L326.2 2579.4 L333 2572.7 L342.6 2572.7Z" fill="#808000"/>
<path d="M403.2 2581.2 L403.2 2590.8 L396.5 2597.6 L386.9 2597.6 L380.1 2590.8 L380.1 2581.2 L386.9 2574.5 L396.5 2574.5Z" fill="#808000"/>
<path d="M457.1 2583.3 L457.1 2592.9 L450.4 2599.7 L440.8 2599.7 L434 2592.9 L434 2583.3 L440.8 2576.6 L450.4 2576.6Z" fill="#808000"/>
<path d="M511 2542.8 L511 2552.3 L504.3 2559.1 L494.7 2559.1 L488 2552.3 L488 2542.8 L494.7 2536 L504.3 2536Z" fill="#808000"/>
<path d="M565 2543.6 L565 2553.1 L558.2 2559.9 L548.6 2559.9 L541.9 2553.1 L541.9 2543.6 L548.6 2536.8 L558.2 2536.8Z" fill="#808000"/>
<path d="M618.9 2247.2 L618.9 2256.8 L612.1 2263.6 L602.5 2263.6 L595.8 2256.8 L595.8 2247.2 L602.5 2240.5 L612.1 2240.5Z" fill="#808000"/>
<path d="M672.8 1801.9 L672.8 1811.5 L666 1818.3 L656.4 1818.3 L649.7 1811.5 L649.7 1801.9 L656.4 1795.2 L666 1795.2Z" fill="#808000"/>
<path d="M726.7 1830 L726.7 1839.5 L719.9 1846.3 L710.3 1846.3 L703.6 1839.5 L703.6 1830 L710.3 1823.2 L719.9 1823.2Z" fill="#808000"/>
<path d="M780.6 1812.7 L780.6 1822.3 L773.8 1829 L764.2 1829 L757.5 1822.3 L757.5 1812.7 L764.2 1805.9 L773.8 1805.9Z" fill="#808000"/>
<path d="M834.5 1831.3 L834.5 1840.8 L827.7 1847.6 L818.1 1847.6 L811.4 1840.8 L811.4 1831.3 L818.1 1824.5 L827.7 1824.5Z" fill="#808000"/>
<path d="M888.4 1833.2 L888.4 1842.8 L881.6 1849.6 L872.1 1849.6 L865.3 1842.8 L865.3 1833.2 L872.1 1826.5 L881.6 1826.5Z" fill="#808000"/>
<path d="M942.3 1835.2 L942.3 1844.7 L935.5 1851.5 L926 1851.5 L919.2 1844.7 L919.2 1835.2 L926 1828.4 L935.5 1828.4Z" fill="#808000"/>
<path d="M996.2 1879.8 L996.2 1889.4 L989.4 1896.2 L979.9 1896.2 L973.1 1889.4 L973.1 1879.8 L979.9 1873.1 L989.4 1873.1Z" fill="#808000"/>
<path d="M1050.1 1975 L1050.1 1984.6 L1043.3 1991.4 L1033.8 1991.4 L1027 1984.6 L1027 1975 L1033.8 1968.3 L1043.3 1968.3Z" fill="#808000"/>
<path d="M1104 2054.3 L1104 2063.8 L1097.2 2070.6 L1087.7 2070.6 L1080.9 2063.8 L1080.9 2054.3 L1087.7 2047.5 L1097.2 2047.5Z" fill="#808000"/>
<path d="M1157.9 2110.2 L1157.9 2119.7 L1151.1 2126.5 L1141.6 2126.5 L1134.8 2119.7 L1134.8 2110.2 L1141.6 2103.4 L1151.1 2103.4Z" fill="#808000"/>
<path d="M1211.8 2188.1 L1211.8 2197.6 L1205 2204.4 L1195.5 2204.4 L1188.7 2197.6 L1188.7 2188.1 L1195.5 2181.3 L1205 2181.3Z" fill="#808000"/>
<path d="M1265.7 2270.9 L1265.7 2280.4 L1259 2287.2 L1249.4 2287.2 L1242.6 2280.4 L1242.6 2270.9 L1249.4 2264.1 L1259 2264.1Z" fill="#808000"/>
<path d="M1319.6 2351.4 L1319.6 2361 L1312.9 2367.7 L1303.3 2367.7 L1296.5 2361 L1296.5 2351.4 L1303.3 2344.6 L1312.9 2344.6Z" fill="#808000"/>
<path d="M1373.5 2382.4 L1373.5 2391.9 L1366.8 2398.7 L1357.2 2398.7 L1350.4 2391.9 L1350.4 2382.4 L1357.2 2375.6 L1366.8 2375.6Z" fill="#808000"/>
<path d="M1427.4 2452.8 L1427.4 2462.4 L1420.7 2469.1 L1411.1 2469.1 L1404.3 2462.4 L1404.3 2452.8 L1411.1 2446 L1420.7 2446Z" fill="#808000"/>
<path d="M1481.3 2485.1 L1481.3 2494.6 L1474.6 2501.4 L1465 2501.4 L1458.2 2494.6 L1458.2 2485.1 L1465 2478.3 L1474.6 2478.3Z" fill="#808000"/>
<path d="M1535.2 2533 L1535.2 2542.5 L1528.5 2549.3 L1518.9 2549.3 L1512.1 2542.5 L1512.1 2533 L1518.9 2526.2 L1528.5 2526.2Z" fill="#808000"/>
<path d="M1589.1 2568.7 L1589.1 2578.2 L1582.4 2585 L1572.8 2585 L1566.1 2578.2 L1566.1 2568.7 L1572.8 2561.9 L1582.4 2561.9Z" fill="#808000"/>
<path d="M353.7 2574.3L375.8 2576.3M407.6 2579.1L429.7 2581.1M461.3 2585.6L483.8 2590M513.3 2584.9L539.6 2569.5M556 2545.6L604.7 2255.3M609.3 2223.6L659.2 1831.2M675.4 1822.8L700.9 1836.1M731.1 1843.5L806.9 1843.5M837.6 1850L862.2 1860.9M890.6 1875.5L917 1891.3M939.3 1913L976.1 1971.3M994.1 1997.7L1029 2045M1046.3 2071.9L1084.7 2141.7M1103.6 2167.2L1135.2 2199.9M1155.2 2224.8L1191.5 2279.7M1209.4 2306.3L1245.1 2357.9M1264.8 2383L1297.5 2420.1M1322.8 2438.5L1347.3 2449.1M1372 2467.9L1405.8 2509.8M1430.6 2528.6L1455.1 2539.1M1484 2552.8L1509.5 2566.1" fill="none" stroke="#000080" stroke-width="2.7"/>
<path d="M337.8 2559.3 L341.4 2567.8 L350.6 2568.6 L343.7 2574.7 L345.7 2583.7 L337.8 2579 L329.8 2583.7 L331.9 2574.7 L324.9 2568.6 L334.1 2567.8Z" fill="#000080"/>
<path d="M391.7 2564.2 L395.3 2572.7 L404.5 2573.5 L397.6 2579.6 L399.6 2588.6 L391.7 2583.9 L383.8 2588.6 L385.8 2579.6 L378.9 2573.5 L388 2572.7Z" fill="#000080"/>
<path d="M445.6 2569.1 L449.2 2577.6 L458.4 2578.4 L451.5 2584.5 L453.5 2593.5 L445.6 2588.8 L437.7 2593.5 L439.7 2584.5 L432.8 2578.4 L442 2577.6Z" fill="#000080"/>
<path d="M499.5 2579.5 L503.1 2588 L512.3 2588.9 L505.4 2594.9 L507.4 2603.9 L499.5 2599.2 L491.6 2603.9 L493.6 2594.9 L486.7 2588.9 L495.9 2588Z" fill="#000080"/>
<path d="M553.4 2547.9 L557 2556.4 L566.2 2557.2 L559.3 2563.3 L561.3 2572.3 L553.4 2567.6 L545.5 2572.3 L547.5 2563.3 L540.6 2557.2 L549.8 2556.4Z" fill="#000080"/>
<path d="M607.3 2226 L611 2234.5 L620.1 2235.3 L613.2 2241.4 L615.2 2250.4 L607.3 2245.7 L599.4 2250.4 L601.4 2241.4 L594.5 2235.3 L603.7 2234.5Z" fill="#000080"/>
<path d="M661.2 1801.8 L664.9 1810.3 L674.1 1811.2 L667.1 1817.3 L669.2 1826.3 L661.2 1821.5 L653.3 1826.3 L655.3 1817.3 L648.4 1811.2 L657.6 1810.3Z" fill="#000080"/>
<path d="M715.1 1830 L718.8 1838.5 L728 1839.4 L721 1845.5 L723.1 1854.5 L715.1 1849.7 L707.2 1854.5 L709.2 1845.5 L702.3 1839.4 L711.5 1838.5Z" fill="#000080"/>
<path d="M822.9 1830 L826.6 1838.5 L835.8 1839.4 L828.8 1845.5 L830.9 1854.5 L822.9 1849.7 L815 1854.5 L817 1845.5 L810.1 1839.4 L819.3 1838.5Z" fill="#000080"/>
<path d="M876.8 1853.8 L880.5 1862.3 L889.7 1863.2 L882.7 1869.3 L884.8 1878.3 L876.8 1873.5 L868.9 1878.3 L870.9 1869.3 L864 1863.2 L873.2 1862.3Z" fill="#000080"/>
<path d="M930.7 1886 L934.4 1894.4 L943.6 1895.3 L936.6 1901.4 L938.7 1910.4 L930.7 1905.7 L922.8 1910.4 L924.8 1901.4 L917.9 1895.3 L927.1 1894.4Z" fill="#000080"/>
<path d="M984.6 1971.4 L988.3 1979.9 L997.5 1980.7 L990.5 1986.8 L992.6 1995.8 L984.6 1991.1 L976.7 1995.8 L978.7 1986.8 L971.8 1980.7 L981 1979.9Z" fill="#000080"/>
<path d="M1038.6 2044.4 L1042.2 2052.9 L1051.4 2053.7 L1044.4 2059.8 L1046.5 2068.8 L1038.6 2064.1 L1030.6 2068.8 L1032.7 2059.8 L1025.7 2053.7 L1034.9 2052.9Z" fill="#000080"/>
<path d="M1092.5 2142.2 L1096.1 2150.7 L1105.3 2151.5 L1098.4 2157.6 L1100.4 2166.6 L1092.5 2161.9 L1084.5 2166.6 L1086.6 2157.6 L1079.6 2151.5 L1088.8 2150.7Z" fill="#000080"/>
<path d="M1146.4 2197.9 L1150 2206.4 L1159.2 2207.3 L1152.3 2213.4 L1154.3 2222.4 L1146.4 2217.6 L1138.4 2222.4 L1140.5 2213.4 L1133.5 2207.3 L1142.7 2206.4Z" fill="#000080"/>
<path d="M1200.3 2279.6 L1203.9 2288.1 L1213.1 2288.9 L1206.2 2295 L1208.2 2304 L1200.3 2299.3 L1192.3 2304 L1194.4 2295 L1187.4 2288.9 L1196.6 2288.1Z" fill="#000080"/>
<path d="M1254.2 2357.5 L1257.8 2366 L1267 2366.8 L1260.1 2372.9 L1262.1 2381.9 L1254.2 2377.2 L1246.2 2381.9 L1248.3 2372.9 L1241.3 2366.8 L1250.5 2366Z" fill="#000080"/>
<path d="M1308.1 2418.6 L1311.7 2427.1 L1320.9 2428 L1314 2434.1 L1316 2443.1 L1308.1 2438.3 L1300.1 2443.1 L1302.2 2434.1 L1295.2 2428 L1304.4 2427.1Z" fill="#000080"/>
<path d="M1362 2441.9 L1365.6 2450.4 L1374.8 2451.3 L1367.9 2457.4 L1369.9 2466.4 L1362 2461.6 L1354 2466.4 L1356.1 2457.4 L1349.1 2451.3 L1358.3 2450.4Z" fill="#000080"/>
<path d="M1415.9 2508.8 L1419.5 2517.3 L1428.7 2518.1 L1421.8 2524.2 L1423.8 2533.2 L1415.9 2528.5 L1407.9 2533.2 L1410 2524.2 L1403 2518.1 L1412.2 2517.3Z" fill="#000080"/>
<path d="M1469.8 2531.9 L1473.4 2540.4 L1482.6 2541.3 L1475.7 2547.3 L1477.7 2556.3 L1469.8 2551.6 L1461.9 2556.3 L1463.9 2547.3 L1457 2541.3 L1466.1 2540.4Z" fill="#000080"/>
<path d="M1523.7 2560 L1527.3 2568.4 L1536.5 2569.3 L1529.6 2575.4 L1531.6 2584.4 L1523.7 2579.7 L1515.8 2584.4 L1517.8 2575.4 L1510.9 2569.3 L1520.1 2568.4Z" fill="#000080"/>
<path d="M353.6 2564.5L375.8 2567.4M407.6 2571L429.7 2573M461.5 2575.9L483.6 2577.9M515.4 2581.3L537.5 2583.9M556.3 2570.1L604.4 2305.6M609.2 2274L659.3 1849.7M674.6 1842.6L701.8 1860.6M730.5 1865.1L753.6 1858.6M783.7 1860.8L808.3 1871.6M834.7 1889L865.1 1917M886.6 1940.5L920.9 1984.6M938.7 2011.1L976.7 2077.4M994.4 2104L1028.8 2149.2M1048.6 2174.3L1082.4 2216.3M1100.7 2242.5L1138.2 2305.3M1158.4 2329.5L1188.2 2355.6M1211.1 2377.9L1243.3 2412.9M1266.6 2434.7L1295.6 2458.1M1321.1 2477.5L1349 2497.6M1375 2516.3L1402.9 2536.1M1430.7 2551.4L1455 2561.3" fill="none" stroke="#800080" stroke-width="2.7"/>
<path d="M337.8 2549.4 L350.1 2558.4 L345.4 2572.9 L330.1 2572.9 L325.4 2558.4Z" fill="#800080"/>
<path d="M391.7 2556.5 L404.1 2565.5 L399.3 2580.1 L384 2580.1 L379.3 2565.5Z" fill="#800080"/>
<path d="M445.6 2561.4 L458 2570.4 L453.2 2585 L438 2585 L433.2 2570.4Z" fill="#800080"/>
<path d="M499.5 2566.3 L511.9 2575.3 L507.1 2589.8 L491.9 2589.8 L487.1 2575.3Z" fill="#800080"/>
<path d="M553.4 2572.8 L565.8 2581.8 L561 2596.4 L545.8 2596.4 L541 2581.8Z" fill="#800080"/>
<path d="M607.3 2276.8 L619.7 2285.8 L615 2300.4 L599.7 2300.4 L594.9 2285.8Z" fill="#800080"/>
<path d="M661.2 1820.8 L673.6 1829.8 L668.9 1844.3 L653.6 1844.3 L648.9 1829.8Z" fill="#800080"/>
<path d="M715.1 1856.5 L727.5 1865.4 L722.8 1880 L707.5 1880 L702.8 1865.4Z" fill="#800080"/>
<path d="M769 1841.3 L781.4 1850.3 L776.7 1864.8 L761.4 1864.8 L756.7 1850.3Z" fill="#800080"/>
<path d="M822.9 1865.1 L835.3 1874.1 L830.6 1888.6 L815.3 1888.6 L810.6 1874.1Z" fill="#800080"/>
<path d="M876.8 1914.8 L889.2 1923.8 L884.5 1938.3 L869.2 1938.3 L864.5 1923.8Z" fill="#800080"/>
<path d="M930.7 1984.3 L943.1 1993.2 L938.4 2007.8 L923.1 2007.8 L918.4 1993.2Z" fill="#800080"/>
<path d="M984.6 2078.3 L997 2087.3 L992.3 2101.8 L977 2101.8 L972.3 2087.3Z" fill="#800080"/>
<path d="M1038.6 2148.9 L1050.9 2157.9 L1046.2 2172.4 L1030.9 2172.4 L1026.2 2157.9Z" fill="#800080"/>
<path d="M1092.5 2215.7 L1104.8 2224.7 L1100.1 2239.2 L1084.8 2239.2 L1080.1 2224.7Z" fill="#800080"/>
<path d="M1146.4 2306 L1158.7 2315 L1154 2329.5 L1138.7 2329.5 L1134 2315Z" fill="#800080"/>
<path d="M1200.3 2353.1 L1212.6 2362.1 L1207.9 2376.6 L1192.6 2376.6 L1187.9 2362.1Z" fill="#800080"/>
<path d="M1254.2 2411.6 L1266.5 2420.6 L1261.8 2435.2 L1246.5 2435.2 L1241.8 2420.6Z" fill="#800080"/>
<path d="M1308.1 2455.2 L1320.4 2464.1 L1315.7 2478.7 L1300.4 2478.7 L1295.7 2464.1Z" fill="#800080"/>
<path d="M1362 2494 L1374.3 2502.9 L1369.6 2517.5 L1354.3 2517.5 L1349.6 2502.9Z" fill="#800080"/>
<path d="M1415.9 2532.4 L1428.2 2541.4 L1423.5 2555.9 L1408.2 2555.9 L1403.5 2541.4Z" fill="#800080"/>
<path d="M1469.8 2554.3 L1482.2 2563.3 L1477.4 2577.8 L1462.1 2577.8 L1457.4 2563.3Z" fill="#800080"/>
<path d="M353.8 2573.8L375.7 2573.2M407.7 2572.3L429.6 2571.7M461.6 2572.1L483.5 2573.5M515.4 2573L537.5 2571M556.9 2553.9L603.8 2347.5M609.2 2316L659.3 1903.8M676.3 1893.3L700.1 1901.9M729.6 1900.6L754.5 1889.1M780.5 1893.5L811.4 1923.2M832.8 1946.9L866.9 1990.1M885.9 2015.8L921.7 2068.2M939.8 2094.5L975.6 2146.3M993.3 2172.9L1029.9 2230.1M1048.5 2256.1L1082.5 2299M1102.8 2323.8L1136.1 2363.3M1160.3 2383.5L1186.3 2398.2M1211.3 2417.7L1243.2 2451.5M1267.6 2471.7L1294.6 2489M1321.8 2505.9L1348.3 2521.7" fill="none" stroke="#800000" stroke-width="2.7"/>
<circle cx="337.8" cy="2574.3" r="10" fill="#800000"/>
<circle cx="391.7" cy="2572.8" r="10" fill="#800000"/>
<circle cx="445.6" cy="2571.2" r="10" fill="#800000"/>
<circle cx="499.5" cy="2574.4" r="10" fill="#800000"/>
<circle cx="553.4" cy="2569.5" r="10" fill="#800000"/>
<circle cx="607.3" cy="2331.9" r="10" fill="#800000"/>
<circle cx="661.2" cy="1887.9" r="10" fill="#800000"/>
<circle cx="715.1" cy="1907.3" r="10" fill="#800000"/>
<circle cx="769" cy="1882.3" r="10" fill="#800000"/>
<circle cx="822.9" cy="1934.3" r="10" fill="#800000"/>
<circle cx="876.8" cy="2002.6" r="10" fill="#800000"/>
<circle cx="930.7" cy="2081.4" r="10" fill="#800000"/>
<circle cx="984.6" cy="2159.4" r="10" fill="#800000"/>
<circle cx="1038.6" cy="2243.5" r="10" fill="#800000"/>
<circle cx="1092.5" cy="2311.5" r="10" fill="#800000"/>
<circle cx="1146.4" cy="2375.6" r="10" fill="#800000"/>
<circle cx="1200.3" cy="2406.1" r="10" fill="#800000"/>
<circle cx="1254.2" cy="2463.1" r="10" fill="#800000"/>
<circle cx="1308.1" cy="2497.7" r="10" fill="#800000"/>
<circle cx="1362" cy="2529.9" r="10" fill="#800000"/>
<path d="M407.7 2575.4L429.6 2576.7M461.4 2575.3L483.7 2571.9M514.4 2563.7L538.5 2554.2M557.5 2532.9L603.2 2360.1M609.3 2328.7L659.2 1931.8M676.4 1920.8L699.9 1928.4M731 1935.3L753.1 1938M780.2 1951.3L811.7 1983.5M831.5 2008.5L868.3 2067M887.3 2092.7L920.3 2131.2M939.8 2156.5L975.5 2208.1M995.5 2233L1027.7 2267.8M1047.4 2292.9L1083.6 2347.9M1106.1 2369.5L1132.7 2385.6M1157.3 2405.5L1189.3 2439.7M1213.5 2460.4L1240.9 2479M1265.8 2499.1L1296.5 2528.2M1323.8 2542.4L1346.3 2547" fill="none" stroke="#008000" stroke-width="2.7"/>
<rect x="384.5" y="2565.9" width="14.4" height="17" fill="#fff" stroke="#008000" stroke-width="2.6"/>
<rect x="438.4" y="2569.2" width="14.4" height="17" fill="#fff" stroke="#008000" stroke-width="2.6"/>
<rect x="492.3" y="2561" width="14.4" height="17" fill="#fff" stroke="#008000" stroke-width="2.6"/>
<rect x="546.2" y="2539.9" width="14.4" height="17" fill="#fff" stroke="#008000" stroke-width="2.6"/>
<rect x="600.1" y="2336.1" width="14.4" height="17" fill="#fff" stroke="#008000" stroke-width="2.6"/>
<rect x="654" y="1907.4" width="14.4" height="17" fill="#fff" stroke="#008000" stroke-width="2.6"/>
<rect x="707.9" y="1924.9" width="14.4" height="17" fill="#fff" stroke="#008000" stroke-width="2.6"/>
<rect x="761.8" y="1931.4" width="14.4" height="17" fill="#fff" stroke="#008000" stroke-width="2.6"/>
<rect x="815.7" y="1986.5" width="14.4" height="17" fill="#fff" stroke="#008000" stroke-width="2.6"/>
<rect x="869.6" y="2072" width="14.4" height="17" fill="#fff" stroke="#008000" stroke-width="2.6"/>
<rect x="923.5" y="2134.8" width="14.4" height="17" fill="#fff" stroke="#008000" stroke-width="2.6"/>
<rect x="977.4" y="2212.7" width="14.4" height="17" fill="#fff" stroke="#008000" stroke-width="2.6"/>
<rect x="1031.4" y="2271.1" width="14.4" height="17" fill="#fff" stroke="#008000" stroke-width="2.6"/>
<rect x="1085.3" y="2352.7" width="14.4" height="17" fill="#fff" stroke="#008000" stroke-width="2.6"/>
<rect x="1139.2" y="2385.3" width="14.4" height="17" fill="#fff" stroke="#008000" stroke-width="2.6"/>
<rect x="1193.1" y="2442.9" width="14.4" height="17" fill="#fff" stroke="#008000" stroke-width="2.6"/>
<rect x="1247" y="2479.5" width="14.4" height="17" fill="#fff" stroke="#008000" stroke-width="2.6"/>
<rect x="1300.9" y="2530.7" width="14.4" height="17" fill="#fff" stroke="#008000" stroke-width="2.6"/>
<rect x="1354.8" y="2541.7" width="14.4" height="17" fill="#fff" stroke="#008000" stroke-width="2.6"/>
<path d="M407.6 2568.2L429.7 2570.9M461.6 2572.3L483.5 2571.7M514.7 2566.1L538.2 2558.3M557.7 2537.8L603 2376.8M609.4 2345.5L659.1 1974.2M676.8 1962L699.6 1967.5M729.8 1977.5L754.3 1987.9M778.1 2007.4L813.9 2059.8M832.5 2085.9L867.3 2132.9M888.1 2157.1L919.5 2188.8M939.1 2213.8L976.3 2274.4M997 2298.3L1026.2 2322.5M1048.9 2345L1082.2 2384.5M1104.4 2407.4L1134.4 2434.3M1159.2 2454.6L1187.4 2475.6M1212.5 2495.4L1241.9 2519.9M1268.6 2537.1L1293.7 2549.3" fill="none" stroke="#008080" stroke-width="2.7"/>
<ellipse cx="391.7" cy="2566.3" rx="8.3" ry="8.7" fill="#fff" stroke="#008080" stroke-width="2.6"/>
<ellipse cx="445.6" cy="2572.8" rx="8.3" ry="8.7" fill="#fff" stroke="#008080" stroke-width="2.6"/>
<ellipse cx="499.5" cy="2571.2" rx="8.3" ry="8.7" fill="#fff" stroke="#008080" stroke-width="2.6"/>
<ellipse cx="553.4" cy="2553.2" rx="8.3" ry="8.7" fill="#fff" stroke="#008080" stroke-width="2.6"/>
<ellipse cx="607.3" cy="2361.4" rx="8.3" ry="8.7" fill="#fff" stroke="#008080" stroke-width="2.6"/>
<ellipse cx="661.2" cy="1958.3" rx="8.3" ry="8.7" fill="#fff" stroke="#008080" stroke-width="2.6"/>
<ellipse cx="715.1" cy="1971.2" rx="8.3" ry="8.7" fill="#fff" stroke="#008080" stroke-width="2.6"/>
<ellipse cx="769" cy="1994.2" rx="8.3" ry="8.7" fill="#fff" stroke="#008080" stroke-width="2.6"/>
<ellipse cx="822.9" cy="2073.1" rx="8.3" ry="8.7" fill="#fff" stroke="#008080" stroke-width="2.6"/>
<ellipse cx="876.8" cy="2145.8" rx="8.3" ry="8.7" fill="#fff" stroke="#008080" stroke-width="2.6"/>
<ellipse cx="930.7" cy="2200.2" rx="8.3" ry="8.7" fill="#fff" stroke="#008080" stroke-width="2.6"/>
<ellipse cx="984.6" cy="2288" rx="8.3" ry="8.7" fill="#fff" stroke="#008080" stroke-width="2.6"/>
<ellipse cx="1038.6" cy="2332.7" rx="8.3" ry="8.7" fill="#fff" stroke="#008080" stroke-width="2.6"/>
<ellipse cx="1092.5" cy="2396.8" rx="8.3" ry="8.7" fill="#fff" stroke="#008080" stroke-width="2.6"/>
<ellipse cx="1146.4" cy="2445" rx="8.3" ry="8.7" fill="#fff" stroke="#008080" stroke-width="2.6"/>
<ellipse cx="1200.3" cy="2485.1" rx="8.3" ry="8.7" fill="#fff" stroke="#008080" stroke-width="2.6"/>
<ellipse cx="1254.2" cy="2530.1" rx="8.3" ry="8.7" fill="#fff" stroke="#008080" stroke-width="2.6"/>
<ellipse cx="1308.1" cy="2556.3" rx="8.3" ry="8.7" fill="#fff" stroke="#008080" stroke-width="2.6"/>
<path d="M407.5 2570.3L429.8 2573.7M461.6 2575.1L483.5 2573.8M515.4 2574.4L537.5 2576.6M557.5 2562.7L603.2 2392.7M609.6 2361.4L658.9 2026M677.2 2009.5L699.1 2008.6M727.2 2018.5L756.9 2044M776.5 2068.6L815.4 2142M833.2 2168.4L866.5 2208.1M888.5 2231.3L919 2259.8M941 2283L974.4 2322.9M995.3 2347.1L1027.9 2383.5M1051.6 2404.7L1079.4 2424.5M1104.5 2444.3L1134.3 2470.2M1159.4 2490L1187.2 2509.9M1213.1 2528.8L1241.4 2549.9M1269.9 2556.7L1292.3 2552.9" fill="none" stroke="#0000A0" stroke-width="2.7"/>
<path d="M391.7 2556.9 L404 2578.9 L379.4 2578.9Z" fill="#fff" stroke="#0000A0" stroke-width="2.6"/>
<path d="M445.6 2565.1 L457.9 2587.1 L433.3 2587.1Z" fill="#fff" stroke="#0000A0" stroke-width="2.6"/>
<path d="M499.5 2561.8 L511.8 2583.8 L487.2 2583.8Z" fill="#fff" stroke="#0000A0" stroke-width="2.6"/>
<path d="M553.4 2567.2 L565.7 2589.2 L541.1 2589.2Z" fill="#fff" stroke="#0000A0" stroke-width="2.6"/>
<path d="M607.3 2366.2 L619.6 2388.2 L595 2388.2Z" fill="#fff" stroke="#0000A0" stroke-width="2.6"/>
<path d="M661.2 1999.1 L673.5 2021.1 L648.9 2021.1Z" fill="#fff" stroke="#0000A0" stroke-width="2.6"/>
<path d="M715.1 1997 L727.4 2019 L702.8 2019Z" fill="#fff" stroke="#0000A0" stroke-width="2.6"/>
<path d="M769 2043.5 L781.3 2065.5 L756.7 2065.5Z" fill="#fff" stroke="#0000A0" stroke-width="2.6"/>
<path d="M822.9 2145.2 L835.2 2167.2 L810.6 2167.2Z" fill="#fff" stroke="#0000A0" stroke-width="2.6"/>
<path d="M876.8 2209.4 L889.1 2231.4 L864.5 2231.4Z" fill="#fff" stroke="#0000A0" stroke-width="2.6"/>
<path d="M930.7 2259.8 L943 2281.8 L918.4 2281.8Z" fill="#fff" stroke="#0000A0" stroke-width="2.6"/>
<path d="M984.6 2324.2 L996.9 2346.2 L972.3 2346.2Z" fill="#fff" stroke="#0000A0" stroke-width="2.6"/>
<path d="M1038.6 2384.5 L1050.9 2406.5 L1026.3 2406.5Z" fill="#fff" stroke="#0000A0" stroke-width="2.6"/>
<path d="M1092.5 2422.8 L1104.8 2444.8 L1080.2 2444.8Z" fill="#fff" stroke="#0000A0" stroke-width="2.6"/>
<path d="M1146.4 2469.7 L1158.7 2491.7 L1134.1 2491.7Z" fill="#fff" stroke="#0000A0" stroke-width="2.6"/>
<path d="M1200.3 2508.2 L1212.6 2530.2 L1188 2530.2Z" fill="#fff" stroke="#0000A0" stroke-width="2.6"/>
<path d="M1254.2 2548.4 L1266.5 2570.4 L1241.9 2570.4Z" fill="#fff" stroke="#0000A0" stroke-width="2.6"/>
<path d="M1308.1 2539.2 L1320.4 2561.2 L1295.8 2561.2Z" fill="#fff" stroke="#0000A0" stroke-width="2.6"/>
<path d="M407.7 2574.4L429.6 2574.4M461.5 2572.5L483.6 2569.8M514.9 2563.7L538 2557.5M558.2 2538L602.5 2397.4M610.6 2366.4L658 2137.1M675.9 2127.8L700.4 2138.4M725.1 2157.3L759 2199.6M778 2225.4L814 2278.7M834.4 2303.1L865.4 2333.4M890.3 2353.3L917.3 2370.8M943 2389.7L972.4 2414.2M996.7 2434.9L1026.4 2460.6M1051.9 2479.9L1079.1 2497.8M1106.6 2514.1L1132.2 2527.7M1160.6 2542.4L1186 2555.3" fill="none" stroke="#808080" stroke-width="2.7"/>
<path d="M391.7 2585.4 L404 2563.4 L379.4 2563.4Z" fill="#fff" stroke="#808080" stroke-width="2.6"/>
<path d="M445.6 2585.4 L457.9 2563.4 L433.3 2563.4Z" fill="#fff" stroke="#808080" stroke-width="2.6"/>
<path d="M499.5 2578.9 L511.8 2556.9 L487.2 2556.9Z" fill="#fff" stroke="#808080" stroke-width="2.6"/>
<path d="M553.4 2564.2 L565.7 2542.2 L541.1 2542.2Z" fill="#fff" stroke="#808080" stroke-width="2.6"/>
<path d="M607.3 2393.1 L619.6 2371.1 L595 2371.1Z" fill="#fff" stroke="#808080" stroke-width="2.6"/>
<path d="M661.2 2132.5 L673.5 2110.5 L648.9 2110.5Z" fill="#fff" stroke="#808080" stroke-width="2.6"/>
<path d="M715.1 2155.8 L727.4 2133.8 L702.8 2133.8Z" fill="#fff" stroke="#808080" stroke-width="2.6"/>
<path d="M769 2223.1 L781.3 2201.1 L756.7 2201.1Z" fill="#fff" stroke="#808080" stroke-width="2.6"/>
<path d="M822.9 2303 L835.2 2281 L810.6 2281Z" fill="#fff" stroke="#808080" stroke-width="2.6"/>
<path d="M876.8 2355.6 L889.1 2333.6 L864.5 2333.6Z" fill="#fff" stroke="#808080" stroke-width="2.6"/>
<path d="M930.7 2390.5 L943 2368.5 L918.4 2368.5Z" fill="#fff" stroke="#808080" stroke-width="2.6"/>
<path d="M984.6 2435.5 L996.9 2413.5 L972.3 2413.5Z" fill="#fff" stroke="#808080" stroke-width="2.6"/>
<path d="M1038.6 2482.1 L1050.9 2460.1 L1026.3 2460.1Z" fill="#fff" stroke="#808080" stroke-width="2.6"/>
<path d="M1092.5 2517.6 L1104.8 2495.6 L1080.2 2495.6Z" fill="#fff" stroke="#808080" stroke-width="2.6"/>
<path d="M1146.4 2546.2 L1158.7 2524.2 L1134.1 2524.2Z" fill="#fff" stroke="#808080" stroke-width="2.6"/>
<path d="M1200.3 2573.5 L1212.6 2551.5 L1188 2551.5Z" fill="#fff" stroke="#808080" stroke-width="2.6"/>
<path d="M407.7 2572.3L429.6 2571.7M461.6 2572.1L483.5 2573.5M515.5 2574L537.4 2573.3M559.1 2557.8L601.7 2444.8M610.6 2414.2L657.9 2191.9M675.8 2182.8L700.5 2193.8M725.1 2212.9L759 2255.3M777 2281.7L815 2348.2M836.3 2370.8L863.4 2388.5M891 2404.7L916.6 2418.2M942.3 2436.6L973 2465.8M997.1 2486.9L1026.1 2510.3M1053.6 2525.7L1077.4 2534.1M1106.9 2546.2L1131.9 2557.9" fill="none" stroke="#8000FF" stroke-width="2.7"/>
<path d="M391.7 2560.3 L405.2 2572.8 L391.7 2585.3 L378.2 2572.8Z" fill="#fff" stroke="#8000FF" stroke-width="2.6"/>
<path d="M445.6 2558.7 L459.1 2571.2 L445.6 2583.7 L432.1 2571.2Z" fill="#fff" stroke="#8000FF" stroke-width="2.6"/>
<path d="M499.5 2561.9 L513 2574.4 L499.5 2586.9 L486 2574.4Z" fill="#fff" stroke="#8000FF" stroke-width="2.6"/>
<path d="M553.4 2560.3 L566.9 2572.8 L553.4 2585.3 L539.9 2572.8Z" fill="#fff" stroke="#8000FF" stroke-width="2.6"/>
<path d="M607.3 2417.4 L620.8 2429.9 L607.3 2442.4 L593.8 2429.9Z" fill="#fff" stroke="#8000FF" stroke-width="2.6"/>
<path d="M661.2 2163.7 L674.7 2176.2 L661.2 2188.7 L647.7 2176.2Z" fill="#fff" stroke="#8000FF" stroke-width="2.6"/>
<path d="M715.1 2187.9 L728.6 2200.4 L715.1 2212.9 L701.6 2200.4Z" fill="#fff" stroke="#8000FF" stroke-width="2.6"/>
<path d="M769 2255.3 L782.5 2267.8 L769 2280.3 L755.5 2267.8Z" fill="#fff" stroke="#8000FF" stroke-width="2.6"/>
<path d="M822.9 2349.6 L836.4 2362.1 L822.9 2374.6 L809.4 2362.1Z" fill="#fff" stroke="#8000FF" stroke-width="2.6"/>
<path d="M876.8 2384.8 L890.3 2397.3 L876.8 2409.8 L863.3 2397.3Z" fill="#fff" stroke="#8000FF" stroke-width="2.6"/>
<path d="M930.7 2413.1 L944.2 2425.6 L930.7 2438.1 L917.2 2425.6Z" fill="#fff" stroke="#8000FF" stroke-width="2.6"/>
<path d="M984.6 2464.3 L998.1 2476.8 L984.6 2489.3 L971.1 2476.8Z" fill="#fff" stroke="#8000FF" stroke-width="2.6"/>
<path d="M1038.6 2507.8 L1052.1 2520.3 L1038.6 2532.8 L1025.1 2520.3Z" fill="#fff" stroke="#8000FF" stroke-width="2.6"/>
<path d="M1092.5 2526.9 L1106 2539.4 L1092.5 2551.9 L1079 2539.4Z" fill="#fff" stroke="#8000FF" stroke-width="2.6"/>
<path d="M1146.4 2552.2 L1159.9 2564.7 L1146.4 2577.2 L1132.9 2564.7Z" fill="#fff" stroke="#8000FF" stroke-width="2.6"/>
<path d="M407.7 2575.1L429.6 2573.8M461.6 2571.8L483.5 2570.5M515.2 2566.2L537.8 2561.5M559.2 2543.2L601.5 2435.3M611.7 2405L656.8 2248.3M672.9 2243.9L703.4 2272.5M725.6 2295.5L758.5 2333.2M777.9 2358.5L814 2412.3M835.3 2435.8L864.5 2459.8M890.4 2478.4L917.2 2495.1M944.9 2511L970.5 2524.6M999.9 2536.8L1023.3 2544.1M1054.5 2550.1L1076.5 2551.7" fill="none" stroke="#FF0080" stroke-width="2.7"/>
<path d="M380.2 2576.1 L401.7 2563.1 L401.7 2589.1Z" fill="#fff" stroke="#FF0080" stroke-width="2.6"/>
<path d="M434.1 2572.8 L455.6 2559.8 L455.6 2585.8Z" fill="#fff" stroke="#FF0080" stroke-width="2.6"/>
<path d="M488 2569.5 L509.5 2556.5 L509.5 2582.5Z" fill="#fff" stroke="#FF0080" stroke-width="2.6"/>
<path d="M541.9 2558.1 L563.4 2545.1 L563.4 2571.1Z" fill="#fff" stroke="#FF0080" stroke-width="2.6"/>
<path d="M595.8 2420.4 L617.3 2407.4 L617.3 2433.4Z" fill="#fff" stroke="#FF0080" stroke-width="2.6"/>
<path d="M649.7 2233 L671.2 2220 L671.2 2246Z" fill="#fff" stroke="#FF0080" stroke-width="2.6"/>
<path d="M703.6 2283.5 L725.1 2270.5 L725.1 2296.5Z" fill="#fff" stroke="#FF0080" stroke-width="2.6"/>
<path d="M757.5 2345.3 L779 2332.3 L779 2358.3Z" fill="#fff" stroke="#FF0080" stroke-width="2.6"/>
<path d="M811.4 2425.6 L832.9 2412.6 L832.9 2438.6Z" fill="#fff" stroke="#FF0080" stroke-width="2.6"/>
<path d="M865.3 2470 L886.8 2457 L886.8 2483Z" fill="#fff" stroke="#FF0080" stroke-width="2.6"/>
<path d="M919.2 2503.5 L940.7 2490.5 L940.7 2516.5Z" fill="#fff" stroke="#FF0080" stroke-width="2.6"/>
<path d="M973.1 2532.1 L994.6 2519.1 L994.6 2545.1Z" fill="#fff" stroke="#FF0080" stroke-width="2.6"/>
<path d="M1027.1 2548.8 L1048.6 2535.8 L1048.6 2561.8Z" fill="#fff" stroke="#FF0080" stroke-width="2.6"/>
<path d="M1081 2552.9 L1102.5 2539.9 L1102.5 2565.9Z" fill="#fff" stroke="#FF0080" stroke-width="2.6"/>
<path d="M407.7 2574.9L429.6 2575.6M461.6 2575.1L483.5 2573.8M515.2 2569.5L537.8 2564.7M558.4 2546.2L602.3 2413.6M614.1 2383.9L654.4 2298M674.4 2292.5L701.9 2311.3M725.3 2332.6L758.8 2373M777.6 2398.9L814.4 2457.4M836.3 2479.8L863.5 2497.8M891 2514.1L916.6 2527.7M946.3 2538.8L969.1 2544.1M999.7 2553L1023.5 2561.4M1054.5 2566.4L1076.5 2566" fill="none" stroke="#000000" stroke-width="2.7"/>
<path d="M401.7 2574.4 L382.2 2562.4 L382.2 2586.4Z" fill="#fff" stroke="#000000" stroke-width="2.6"/>
<path d="M455.6 2576.1 L436.1 2564.1 L436.1 2588.1Z" fill="#fff" stroke="#000000" stroke-width="2.6"/>
<path d="M509.5 2572.8 L490 2560.8 L490 2584.8Z" fill="#fff" stroke="#000000" stroke-width="2.6"/>
<path d="M563.4 2561.4 L543.9 2549.4 L543.9 2573.4Z" fill="#fff" stroke="#000000" stroke-width="2.6"/>
<path d="M617.3 2398.4 L597.8 2386.4 L597.8 2410.4Z" fill="#fff" stroke="#000000" stroke-width="2.6"/>
<path d="M671.2 2283.5 L651.7 2271.5 L651.7 2295.5Z" fill="#fff" stroke="#000000" stroke-width="2.6"/>
<path d="M725.1 2320.3 L705.6 2308.3 L705.6 2332.3Z" fill="#fff" stroke="#000000" stroke-width="2.6"/>
<path d="M779 2385.4 L759.5 2373.4 L759.5 2397.4Z" fill="#fff" stroke="#000000" stroke-width="2.6"/>
<path d="M832.9 2470.9 L813.4 2458.9 L813.4 2482.9Z" fill="#fff" stroke="#000000" stroke-width="2.6"/>
<path d="M886.8 2506.6 L867.3 2494.6 L867.3 2518.6Z" fill="#fff" stroke="#000000" stroke-width="2.6"/>
<path d="M940.7 2535.2 L921.2 2523.2 L921.2 2547.2Z" fill="#fff" stroke="#000000" stroke-width="2.6"/>
<path d="M994.6 2547.7 L975.1 2535.7 L975.1 2559.7Z" fill="#fff" stroke="#000000" stroke-width="2.6"/>
<path d="M1048.6 2566.8 L1029.1 2554.8 L1029.1 2578.8Z" fill="#fff" stroke="#000000" stroke-width="2.6"/>
<path d="M1102.5 2565.6 L1083 2553.6 L1083 2577.6Z" fill="#fff" stroke="#000000" stroke-width="2.6"/>
<path d="M407.6 2574.1L429.7 2571.5M461.6 2570L483.5 2570.7M511 2560.1L541.9 2530.1M559.7 2504.3L601 2408.2M616.5 2380.4L652 2330.3M671.8 2329.3L704.6 2366.8M724.9 2391.5L759.3 2436.2M778.1 2462.1L813.8 2513.5M837.6 2533.1L862.2 2544M892.5 2553.7L915.1 2558.2M946.7 2561.4L968.6 2561.4" fill="none" stroke="#FF0000" stroke-width="2.7"/>
<path d="M401.4 2572.1 L401.4 2580.1 L395.7 2585.8 L387.7 2585.8 L382 2580.1 L382 2572.1 L387.7 2566.4 L395.7 2566.4Z" fill="#fff" stroke="#FF0000" stroke-width="2.6"/>
<path d="M455.3 2565.5 L455.3 2573.6 L449.6 2579.3 L441.6 2579.3 L435.9 2573.6 L435.9 2565.5 L441.6 2559.8 L449.6 2559.8Z" fill="#fff" stroke="#FF0000" stroke-width="2.6"/>
<path d="M509.2 2567.2 L509.2 2575.2 L503.5 2580.9 L495.5 2580.9 L489.8 2575.2 L489.8 2567.2 L495.5 2561.5 L503.5 2561.5Z" fill="#fff" stroke="#FF0000" stroke-width="2.6"/>
<path d="M563.1 2515 L563.1 2523 L557.4 2528.7 L549.4 2528.7 L543.7 2523 L543.7 2515 L549.4 2509.3 L557.4 2509.3Z" fill="#fff" stroke="#FF0000" stroke-width="2.6"/>
<path d="M617 2389.5 L617 2397.5 L611.3 2403.2 L603.3 2403.2 L597.6 2397.5 L597.6 2389.5 L603.3 2383.8 L611.3 2383.8Z" fill="#fff" stroke="#FF0000" stroke-width="2.6"/>
<path d="M670.9 2313.2 L670.9 2321.2 L665.2 2326.9 L657.2 2326.9 L651.5 2321.2 L651.5 2313.2 L657.2 2307.5 L665.2 2307.5Z" fill="#fff" stroke="#FF0000" stroke-width="2.6"/>
<path d="M724.8 2374.8 L724.8 2382.9 L719.1 2388.5 L711.1 2388.5 L705.4 2382.9 L705.4 2374.8 L711.1 2369.1 L719.1 2369.1Z" fill="#fff" stroke="#FF0000" stroke-width="2.6"/>
<path d="M778.7 2444.9 L778.7 2452.9 L773 2458.6 L765 2458.6 L759.3 2452.9 L759.3 2444.9 L765 2439.2 L773 2439.2Z" fill="#fff" stroke="#FF0000" stroke-width="2.6"/>
<path d="M832.6 2522.7 L832.6 2530.7 L826.9 2536.4 L818.9 2536.4 L813.2 2530.7 L813.2 2522.7 L818.9 2517 L826.9 2517Z" fill="#fff" stroke="#FF0000" stroke-width="2.6"/>
<path d="M886.5 2546.5 L886.5 2554.5 L880.9 2560.2 L872.8 2560.2 L867.1 2554.5 L867.1 2546.5 L872.8 2540.8 L880.9 2540.8Z" fill="#fff" stroke="#FF0000" stroke-width="2.6"/>
<path d="M940.4 2557.4 L940.4 2565.4 L934.8 2571.1 L926.7 2571.1 L921 2565.4 L921 2557.4 L926.7 2551.7 L934.8 2551.7Z" fill="#fff" stroke="#FF0000" stroke-width="2.6"/>
<path d="M994.3 2557.4 L994.3 2565.4 L988.7 2571.1 L980.6 2571.1 L974.9 2565.4 L974.9 2557.4 L980.6 2551.7 L988.7 2551.7Z" fill="#fff" stroke="#FF0000" stroke-width="2.6"/>
<path d="M407.6 2584L429.7 2586M461.1 2583.7L483.9 2578.2M511.7 2564.1L541.2 2539.1M560.1 2514.3L600.6 2426M618.5 2400L650.1 2367.5M672.2 2367.6L704.1 2401.4M724.6 2426L759.6 2473.8M779 2499.2L812.9 2541.6M837.6 2560.5L862.2 2571.3" fill="none" stroke="#00FF00" stroke-width="2.7"/>
<path d="M391.7 2570.1 L394.9 2578.1 L403.6 2578.7 L396.9 2584.3 L399 2592.7 L391.7 2588.1 L384.3 2592.7 L386.5 2584.3 L379.8 2578.7 L388.5 2578.1Z" fill="#fff" stroke="#00FF00" stroke-width="2.6"/>
<path d="M445.6 2575 L448.8 2583 L457.5 2583.6 L450.8 2589.2 L452.9 2597.6 L445.6 2593 L438.2 2597.6 L440.4 2589.2 L433.7 2583.6 L442.4 2583Z" fill="#fff" stroke="#00FF00" stroke-width="2.6"/>
<path d="M499.5 2561.9 L502.7 2570 L511.4 2570.6 L504.7 2576.1 L506.8 2584.6 L499.5 2579.9 L492.2 2584.6 L494.3 2576.1 L487.6 2570.6 L496.3 2570Z" fill="#fff" stroke="#00FF00" stroke-width="2.6"/>
<path d="M553.4 2516.3 L556.6 2524.4 L565.3 2524.9 L558.6 2530.5 L560.8 2538.9 L553.4 2534.3 L546.1 2538.9 L548.2 2530.5 L541.5 2524.9 L550.2 2524.4Z" fill="#fff" stroke="#00FF00" stroke-width="2.6"/>
<path d="M607.3 2398.9 L610.5 2407 L619.2 2407.6 L612.5 2413.1 L614.7 2421.6 L607.3 2416.9 L600 2421.6 L602.1 2413.1 L595.4 2407.6 L604.1 2407Z" fill="#fff" stroke="#00FF00" stroke-width="2.6"/>
<path d="M661.2 2343.5 L664.4 2351.6 L673.1 2352.2 L666.4 2357.7 L668.6 2366.1 L661.2 2361.5 L653.9 2366.1 L656 2357.7 L649.3 2352.2 L658 2351.6Z" fill="#fff" stroke="#00FF00" stroke-width="2.6"/>
<path d="M715.1 2400.6 L718.4 2408.6 L727 2409.2 L720.4 2414.8 L722.5 2423.2 L715.1 2418.6 L707.8 2423.2 L709.9 2414.8 L703.2 2409.2 L711.9 2408.6Z" fill="#fff" stroke="#00FF00" stroke-width="2.6"/>
<path d="M769 2474.2 L772.3 2482.3 L780.9 2482.9 L774.3 2488.4 L776.4 2496.9 L769 2492.2 L761.7 2496.9 L763.8 2488.4 L757.1 2482.9 L765.8 2482.3Z" fill="#fff" stroke="#00FF00" stroke-width="2.6"/>
<path d="M822.9 2541.6 L826.2 2549.6 L834.8 2550.2 L828.2 2555.8 L830.3 2564.2 L822.9 2559.6 L815.6 2564.2 L817.7 2555.8 L811 2550.2 L819.7 2549.6Z" fill="#fff" stroke="#00FF00" stroke-width="2.6"/>
<path d="M876.8 2565.2 L880.1 2573.3 L888.7 2573.8 L882.1 2579.4 L884.2 2587.8 L876.8 2583.2 L869.5 2587.8 L871.6 2579.4 L864.9 2573.8 L873.6 2573.3Z" fill="#fff" stroke="#00FF00" stroke-width="2.6"/>
<path d="M407.7 2570L429.6 2570.7M461.6 2570.7L483.5 2570M509 2556.7L543.9 2509.1M561.3 2482.3L599.4 2415.6M623.3 2400.7L645.2 2399.4M671.6 2410.6L704.7 2449.3M724.6 2474.3L759.5 2521.3M782.6 2542.6L809.3 2559.3" fill="none" stroke="#0000FF" stroke-width="2.7"/>
<rect x="382.2" y="2561.5" width="19" height="16" fill="#0000FF"/><rect x="386.2" y="2571.7" width="11" height="3.6" fill="#fff"/>
<rect x="436.1" y="2563.2" width="19" height="16" fill="#0000FF"/><rect x="440.1" y="2573.4" width="11" height="3.6" fill="#fff"/>
<rect x="490" y="2561.5" width="19" height="16" fill="#0000FF"/><rect x="494" y="2571.7" width="11" height="3.6" fill="#fff"/>
<rect x="543.9" y="2488.2" width="19" height="16" fill="#0000FF"/><rect x="547.9" y="2498.4" width="11" height="3.6" fill="#fff"/>
<rect x="597.8" y="2393.7" width="19" height="16" fill="#0000FF"/><rect x="601.8" y="2403.9" width="11" height="3.6" fill="#fff"/>
<rect x="651.7" y="2390.4" width="19" height="16" fill="#0000FF"/><rect x="655.7" y="2400.6" width="11" height="3.6" fill="#fff"/>
<rect x="705.6" y="2453.5" width="19" height="16" fill="#0000FF"/><rect x="709.6" y="2463.7" width="11" height="3.6" fill="#fff"/>
<rect x="759.5" y="2526.2" width="19" height="16" fill="#0000FF"/><rect x="763.5" y="2536.4" width="11" height="3.6" fill="#fff"/>
<rect x="813.4" y="2559.8" width="19" height="16" fill="#0000FF"/><rect x="817.4" y="2570" width="11" height="3.6" fill="#fff"/>
<path d="M407.5 2568.8L429.8 2565.4M461.6 2562.5L483.5 2561.9M510.2 2549.5L542.7 2513M561.4 2487.2L599.4 2420.9M623.3 2407L645.2 2406.9M671.1 2419.4L705.2 2462.5M724.4 2488.1L759.8 2537.9M783.5 2557.8L808.4 2569.4" fill="none" stroke="#00FFFF" stroke-width="2.7"/>
<circle cx="391.7" cy="2571.2" r="9.8" fill="#00FFFF"/><path d="M385.7 2572.7H397.7L393.7 2577.2H389.7Z" fill="#fff"/>
<circle cx="445.6" cy="2563" r="9.8" fill="#00FFFF"/><path d="M439.6 2564.5H451.6L447.6 2569H443.6Z" fill="#fff"/>
<circle cx="499.5" cy="2561.4" r="9.8" fill="#00FFFF"/><path d="M493.5 2562.9H505.5L501.5 2567.4H497.5Z" fill="#fff"/>
<circle cx="553.4" cy="2501.1" r="9.8" fill="#00FFFF"/><path d="M547.4 2502.6H559.4L555.4 2507.1H551.4Z" fill="#fff"/>
<circle cx="607.3" cy="2407" r="9.8" fill="#00FFFF"/><path d="M601.3 2408.5H613.3L609.3 2413H605.3Z" fill="#fff"/>
<circle cx="661.2" cy="2406.9" r="9.8" fill="#00FFFF"/><path d="M655.2 2408.4H667.2L663.2 2412.9H659.2Z" fill="#fff"/>
<circle cx="715.1" cy="2475" r="9.8" fill="#00FFFF"/><path d="M709.1 2476.5H721.1L717.1 2481H713.1Z" fill="#fff"/>
<circle cx="769" cy="2551" r="9.8" fill="#00FFFF"/><path d="M763 2552.5H775L771 2557H767Z" fill="#fff"/>
<circle cx="822.9" cy="2576.2" r="9.8" fill="#00FFFF"/><path d="M816.9 2577.7H828.9L824.9 2582.2H820.9Z" fill="#fff"/>
<path d="M461.5 2570.9L483.6 2572.9M515 2570.3L537.9 2564.4M562.8 2547.5L597.9 2499.4M622.7 2482L645.8 2475.4M677.2 2471.6L699.1 2472.4M723.5 2486.7L760.6 2546.8M784.3 2565.2L807.7 2572.5" fill="none" stroke="#FF00FF" stroke-width="2.7"/>
<path d="M445.6 2557 L458.6 2582 L432.6 2582Z" fill="#FF00FF"/><rect x="437.1" y="2574.5" width="17" height="3.6" fill="#fff"/>
<path d="M499.5 2561.8 L512.5 2586.8 L486.5 2586.8Z" fill="#FF00FF"/><rect x="491" y="2579.3" width="17" height="3.6" fill="#fff"/>
<path d="M553.4 2547.9 L566.4 2572.9 L540.4 2572.9Z" fill="#FF00FF"/><rect x="544.9" y="2565.4" width="17" height="3.6" fill="#fff"/>
<path d="M607.3 2473.9 L620.3 2498.9 L594.3 2498.9Z" fill="#FF00FF"/><rect x="598.8" y="2491.4" width="17" height="3.6" fill="#fff"/>
<path d="M661.2 2458.4 L674.2 2483.4 L648.2 2483.4Z" fill="#FF00FF"/><rect x="652.7" y="2475.9" width="17" height="3.6" fill="#fff"/>
<path d="M715.1 2460.6 L728.1 2485.6 L702.1 2485.6Z" fill="#FF00FF"/><rect x="706.6" y="2478.1" width="17" height="3.6" fill="#fff"/>
<path d="M769 2547.9 L782 2572.9 L756 2572.9Z" fill="#FF00FF"/><rect x="760.5" y="2565.4" width="17" height="3.6" fill="#fff"/>
<path d="M822.9 2564.7 L835.9 2589.7 L809.9 2589.7Z" fill="#FF00FF"/><rect x="814.4" y="2582.2" width="17" height="3.6" fill="#fff"/>
<rect x="285.6" y="1681.7" width="1399.6" height="979.9" fill="none" stroke="#000" stroke-width="3"/>
<line x1="285.6" y1="2661.6" x2="285.6" y2="2682.6" stroke="#000" stroke-width="3"/>
<line x1="285.6" y1="1681.7" x2="285.6" y2="1698.7" stroke="#000" stroke-width="3"/>
<text x="285.1" y="2741.5" text-anchor="middle" font-size="63">-200</text>
<line x1="393.3" y1="2661.6" x2="393.3" y2="2671.1" stroke="#000" stroke-width="3"/>
<line x1="393.3" y1="1681.7" x2="393.3" y2="1689.2" stroke="#000" stroke-width="3"/>
<line x1="500.9" y1="2661.6" x2="500.9" y2="2682.6" stroke="#000" stroke-width="3"/>
<line x1="500.9" y1="1681.7" x2="500.9" y2="1698.7" stroke="#000" stroke-width="3"/>
<text x="500.4" y="2741.5" text-anchor="middle" font-size="63">0</text>
<line x1="608.6" y1="2661.6" x2="608.6" y2="2671.1" stroke="#000" stroke-width="3"/>
<line x1="608.6" y1="1681.7" x2="608.6" y2="1689.2" stroke="#000" stroke-width="3"/>
<line x1="716.3" y1="2661.6" x2="716.3" y2="2682.6" stroke="#000" stroke-width="3"/>
<line x1="716.3" y1="1681.7" x2="716.3" y2="1698.7" stroke="#000" stroke-width="3"/>
<text x="715.8" y="2741.5" text-anchor="middle" font-size="63">200</text>
<line x1="824" y1="2661.6" x2="824" y2="2671.1" stroke="#000" stroke-width="3"/>
<line x1="824" y1="1681.7" x2="824" y2="1689.2" stroke="#000" stroke-width="3"/>
<line x1="931.6" y1="2661.6" x2="931.6" y2="2682.6" stroke="#000" stroke-width="3"/>
<line x1="931.6" y1="1681.7" x2="931.6" y2="1698.7" stroke="#000" stroke-width="3"/>
<text x="931.1" y="2741.5" text-anchor="middle" font-size="63">400</text>
<line x1="1039.3" y1="2661.6" x2="1039.3" y2="2671.1" stroke="#000" stroke-width="3"/>
<line x1="1039.3" y1="1681.7" x2="1039.3" y2="1689.2" stroke="#000" stroke-width="3"/>
<line x1="1147" y1="2661.6" x2="1147" y2="2682.6" stroke="#000" stroke-width="3"/>
<line x1="1147" y1="1681.7" x2="1147" y2="1698.7" stroke="#000" stroke-width="3"/>
<text x="1146.5" y="2741.5" text-anchor="middle" font-size="63">600</text>
<line x1="1254.6" y1="2661.6" x2="1254.6" y2="2671.1" stroke="#000" stroke-width="3"/>
<line x1="1254.6" y1="1681.7" x2="1254.6" y2="1689.2" stroke="#000" stroke-width="3"/>
<line x1="1362.3" y1="2661.6" x2="1362.3" y2="2682.6" stroke="#000" stroke-width="3"/>
<line x1="1362.3" y1="1681.7" x2="1362.3" y2="1698.7" stroke="#000" stroke-width="3"/>
<text x="1361.8" y="2741.5" text-anchor="middle" font-size="63">800</text>
<line x1="1470" y1="2661.6" x2="1470" y2="2671.1" stroke="#000" stroke-width="3"/>
<line x1="1470" y1="1681.7" x2="1470" y2="1689.2" stroke="#000" stroke-width="3"/>
<line x1="1577.6" y1="2661.6" x2="1577.6" y2="2682.6" stroke="#000" stroke-width="3"/>
<line x1="1577.6" y1="1681.7" x2="1577.6" y2="1698.7" stroke="#000" stroke-width="3"/>
<text x="1577.1" y="2741.5" text-anchor="middle" font-size="63">1000</text>
<line x1="1685.2" y1="2661.6" x2="1685.2" y2="2671.1" stroke="#000" stroke-width="3"/>
<line x1="1685.2" y1="1681.7" x2="1685.2" y2="1689.2" stroke="#000" stroke-width="3"/>
<line x1="273.1" y1="2661.6" x2="285.6" y2="2661.6" stroke="#000" stroke-width="3"/>
<line x1="1675.7" y1="2661.6" x2="1685.2" y2="2661.6" stroke="#000" stroke-width="3"/>
<line x1="264.6" y1="2579.2" x2="285.6" y2="2579.2" stroke="#000" stroke-width="3"/>
<line x1="1667.7" y1="2579.2" x2="1685.2" y2="2579.2" stroke="#000" stroke-width="3"/>
<text x="250" y="2594.7" text-anchor="end" font-size="63">0</text>
<line x1="273.1" y1="2497.6" x2="285.6" y2="2497.6" stroke="#000" stroke-width="3"/>
<line x1="1675.7" y1="2497.6" x2="1685.2" y2="2497.6" stroke="#000" stroke-width="3"/>
<line x1="264.6" y1="2416" x2="285.6" y2="2416" stroke="#000" stroke-width="3"/>
<line x1="1667.7" y1="2416" x2="1685.2" y2="2416" stroke="#000" stroke-width="3"/>
<text x="250" y="2431.5" text-anchor="end" font-size="63">10</text>
<line x1="273.1" y1="2334.4" x2="285.6" y2="2334.4" stroke="#000" stroke-width="3"/>
<line x1="1675.7" y1="2334.4" x2="1685.2" y2="2334.4" stroke="#000" stroke-width="3"/>
<line x1="264.6" y1="2252.8" x2="285.6" y2="2252.8" stroke="#000" stroke-width="3"/>
<line x1="1667.7" y1="2252.8" x2="1685.2" y2="2252.8" stroke="#000" stroke-width="3"/>
<text x="250" y="2268.3" text-anchor="end" font-size="63">20</text>
<line x1="273.1" y1="2171.2" x2="285.6" y2="2171.2" stroke="#000" stroke-width="3"/>
<line x1="1675.7" y1="2171.2" x2="1685.2" y2="2171.2" stroke="#000" stroke-width="3"/>
<line x1="264.6" y1="2089.6" x2="285.6" y2="2089.6" stroke="#000" stroke-width="3"/>
<line x1="1667.7" y1="2089.6" x2="1685.2" y2="2089.6" stroke="#000" stroke-width="3"/>
<text x="250" y="2105.1" text-anchor="end" font-size="63">30</text>
<line x1="273.1" y1="2008" x2="285.6" y2="2008" stroke="#000" stroke-width="3"/>
<line x1="1675.7" y1="2008" x2="1685.2" y2="2008" stroke="#000" stroke-width="3"/>
<line x1="264.6" y1="1926.4" x2="285.6" y2="1926.4" stroke="#000" stroke-width="3"/>
<line x1="1667.7" y1="1926.4" x2="1685.2" y2="1926.4" stroke="#000" stroke-width="3"/>
<text x="250" y="1941.9" text-anchor="end" font-size="63">40</text>
<line x1="273.1" y1="1844.8" x2="285.6" y2="1844.8" stroke="#000" stroke-width="3"/>
<line x1="1675.7" y1="1844.8" x2="1685.2" y2="1844.8" stroke="#000" stroke-width="3"/>
<line x1="264.6" y1="1763.2" x2="285.6" y2="1763.2" stroke="#000" stroke-width="3"/>
<line x1="1667.7" y1="1763.2" x2="1685.2" y2="1763.2" stroke="#000" stroke-width="3"/>
<text x="250" y="1778.7" text-anchor="end" font-size="63">50</text>
<line x1="273.1" y1="1681.7" x2="285.6" y2="1681.7" stroke="#000" stroke-width="3"/>
<line x1="1675.7" y1="1681.7" x2="1685.2" y2="1681.7" stroke="#000" stroke-width="3"/>
<text x="1007.8" y="2848.2" font-size="77" text-anchor="middle" letter-spacing="1.3">height (&#956;m)</text>
<text transform="translate(101.5 2175) rotate(-90)" font-size="79" text-anchor="middle">NMR Signal (arb. units)</text>
<path d="M58.5 2839.2C45 2864.2 45 2900.3 58.5 2925.3L65.5 2925.3C53 2900.3 53 2864.2 65.5 2839.2Z" fill="#000"/>
<path d="M138.3 2839.2C151.8 2864.2 151.8 2900.3 138.3 2925.3L131.3 2925.3C143.8 2900.3 143.8 2864.2 131.3 2839.2Z" fill="#000"/>
<text transform="translate(73 2908.5) scale(1.0 1)" font-size="90">b</text>
<rect x="1715.5" y="1539" width="341.3" height="1346" fill="#fff" stroke="#000" stroke-width="3"/>
<path d="M1725.9 1564.6H1759.1M1798.4 1564.6H1832" stroke="#000000" stroke-width="2.4"/>
<rect x="1769.2" y="1555.1" width="19.5" height="19" fill="#000000"/>
<text x="1846.5" y="1580.6" font-size="45" letter-spacing="1.8">56 min</text>
<path d="M1725.9 1623.2H1759.1M1798.4 1623.2H1832" stroke="#FF0000" stroke-width="2.4"/>
<circle cx="1779" cy="1623.2" r="9.8" fill="#FF0000"/>
<text x="1846.5" y="1639.2" font-size="45" letter-spacing="1.8">327 min</text>
<path d="M1725.9 1681.8H1759.1M1798.4 1681.8H1832" stroke="#00FF00" stroke-width="2.4"/>
<path d="M1779 1669.3 L1793.2 1694.3 L1764.8 1694.3Z" fill="#00FF00"/>
<text x="1846.5" y="1697.8" font-size="45" letter-spacing="1.8">417 min</text>
<path d="M1725.9 1740.5H1759.1M1798.4 1740.5H1832" stroke="#0000FF" stroke-width="2.4"/>
<path d="M1779 1753 L1793.2 1728 L1764.8 1728Z" fill="#0000FF"/>
<text x="1846.5" y="1756.5" font-size="45" letter-spacing="1.8">560 min</text>
<path d="M1725.9 1799.1H1759.1M1798.4 1799.1H1832" stroke="#00FFFF" stroke-width="2.4"/>
<path d="M1779 1784.8 L1793.3 1799.1 L1779 1813.4 L1764.7 1799.1Z" fill="#00FFFF"/>
<text x="1846.5" y="1815.1" font-size="45" letter-spacing="1.8">666 min</text>
<path d="M1725.9 1857.7H1759.1M1798.4 1857.7H1832" stroke="#FF00FF" stroke-width="2.4"/>
<path d="M1766.5 1857.7 L1789 1844.2 L1789 1871.2Z" fill="#FF00FF"/>
<text x="1846.5" y="1873.7" font-size="45" letter-spacing="1.8">769 min</text>
<path d="M1725.9 1916.3H1759.1M1798.4 1916.3H1832" stroke="#FF8000" stroke-width="2.4"/>
<path d="M1791.5 1916.3 L1769 1902.8 L1769 1929.8Z" fill="#FF8000"/>
<text x="1846.5" y="1932.3" font-size="45" letter-spacing="1.8">863 min</text>
<path d="M1725.9 1974.9H1759.1M1798.4 1974.9H1832" stroke="#808000" stroke-width="2.4"/>
<path d="M1790.5 1970.2 L1790.5 1979.7 L1783.8 1986.5 L1774.2 1986.5 L1767.5 1979.7 L1767.5 1970.2 L1774.2 1963.4 L1783.8 1963.4Z" fill="#808000"/>
<text x="1846.5" y="1990.9" font-size="45" letter-spacing="1.8">929 min</text>
<path d="M1725.9 2033.6H1759.1M1798.4 2033.6H1832" stroke="#000080" stroke-width="2.4"/>
<path d="M1779 2020.1 L1782.6 2028.5 L1791.8 2029.4 L1784.9 2035.5 L1786.9 2044.5 L1779 2039.8 L1771.1 2044.5 L1773.1 2035.5 L1766.2 2029.4 L1775.4 2028.5Z" fill="#000080"/>
<text x="1846.5" y="2049.6" font-size="45" letter-spacing="1.8">985 min</text>
<path d="M1725.9 2092.2H1759.1M1798.4 2092.2H1832" stroke="#800080" stroke-width="2.4"/>
<path d="M1779 2079.2 L1791.4 2088.2 L1786.6 2102.7 L1771.4 2102.7 L1766.6 2088.2Z" fill="#800080"/>
<text x="1846.5" y="2108.2" font-size="45" letter-spacing="1.8">1041 min</text>
<path d="M1725.9 2150.8H1759.1M1798.4 2150.8H1832" stroke="#800000" stroke-width="2.4"/>
<circle cx="1779" cy="2150.8" r="10" fill="#800000"/>
<text x="1846.5" y="2166.8" font-size="45" letter-spacing="1.8">1071 min</text>
<path d="M1725.9 2209.4H1759.1M1798.4 2209.4H1832" stroke="#008000" stroke-width="2.4"/>
<rect x="1771.8" y="2200.9" width="14.4" height="17" fill="#fff" stroke="#008000" stroke-width="2.6"/>
<text x="1846.5" y="2225.4" font-size="45" letter-spacing="1.8">1099 min</text>
<path d="M1725.9 2268H1759.1M1798.4 2268H1832" stroke="#008080" stroke-width="2.4"/>
<ellipse cx="1779" cy="2268" rx="8.3" ry="8.7" fill="#fff" stroke="#008080" stroke-width="2.6"/>
<text x="1846.5" y="2284" font-size="45" letter-spacing="1.8">1138 min</text>
<path d="M1725.9 2326.7H1759.1M1798.4 2326.7H1832" stroke="#0000A0" stroke-width="2.4"/>
<path d="M1779 2315.7 L1791.3 2337.7 L1766.7 2337.7Z" fill="#fff" stroke="#0000A0" stroke-width="2.6"/>
<text x="1846.5" y="2342.7" font-size="45" letter-spacing="1.8">1173 min</text>
<path d="M1725.9 2385.3H1759.1M1798.4 2385.3H1832" stroke="#808080" stroke-width="2.4"/>
<path d="M1779 2396.3 L1791.3 2374.3 L1766.7 2374.3Z" fill="#fff" stroke="#808080" stroke-width="2.6"/>
<text x="1846.5" y="2401.3" font-size="45" letter-spacing="1.8">1236 min</text>
<path d="M1725.9 2443.9H1759.1M1798.4 2443.9H1832" stroke="#8000FF" stroke-width="2.4"/>
<path d="M1779 2431.4 L1792.5 2443.9 L1779 2456.4 L1765.5 2443.9Z" fill="#fff" stroke="#8000FF" stroke-width="2.6"/>
<text x="1846.5" y="2459.9" font-size="45" letter-spacing="1.8">1270 min</text>
<path d="M1725.9 2502.5H1759.1M1798.4 2502.5H1832" stroke="#FF0080" stroke-width="2.4"/>
<path d="M1767.5 2502.5 L1789 2489.5 L1789 2515.5Z" fill="#fff" stroke="#FF0080" stroke-width="2.6"/>
<text x="1846.5" y="2518.5" font-size="45" letter-spacing="1.8">1322 min</text>
<path d="M1725.9 2561.1H1759.1M1798.4 2561.1H1832" stroke="#000000" stroke-width="2.4"/>
<path d="M1789 2561.1 L1769.5 2549.1 L1769.5 2573.1Z" fill="#fff" stroke="#000000" stroke-width="2.6"/>
<text x="1846.5" y="2577.1" font-size="45" letter-spacing="1.8">1354 min</text>
<path d="M1725.9 2619.8H1759.1M1798.4 2619.8H1832" stroke="#FF0000" stroke-width="2.4"/>
<path d="M1788.7 2615.7 L1788.7 2623.8 L1783 2629.5 L1775 2629.5 L1769.3 2623.8 L1769.3 2615.7 L1775 2610.1 L1783 2610.1Z" fill="#fff" stroke="#FF0000" stroke-width="2.6"/>
<text x="1846.5" y="2635.8" font-size="45" letter-spacing="1.8">1408 min</text>
<path d="M1725.9 2678.4H1759.1M1798.4 2678.4H1832" stroke="#00FF00" stroke-width="2.4"/>
<path d="M1779 2665.9 L1782.2 2673.9 L1790.9 2674.5 L1784.2 2680.1 L1786.3 2688.5 L1779 2683.9 L1771.7 2688.5 L1773.8 2680.1 L1767.1 2674.5 L1775.8 2673.9Z" fill="#fff" stroke="#00FF00" stroke-width="2.6"/>
<text x="1846.5" y="2694.4" font-size="45" letter-spacing="1.8">1477 min</text>
<path d="M1725.9 2737H1759.1M1798.4 2737H1832" stroke="#0000FF" stroke-width="2.4"/>
<rect x="1769.5" y="2729" width="19" height="16" fill="#0000FF"/><rect x="1773.5" y="2739.2" width="11" height="3.6" fill="#fff"/>
<text x="1846.5" y="2753" font-size="45" letter-spacing="1.8">1626 min</text>
<path d="M1725.9 2795.6H1759.1M1798.4 2795.6H1832" stroke="#00FFFF" stroke-width="2.4"/>
<circle cx="1779" cy="2795.6" r="9.8" fill="#00FFFF"/><path d="M1773 2797.1H1785L1781 2801.6H1777Z" fill="#fff"/>
<text x="1846.5" y="2811.6" font-size="45" letter-spacing="1.8">1656 min</text>
<path d="M1725.9 2854.2H1759.1M1798.4 2854.2H1832" stroke="#FF00FF" stroke-width="2.4"/>
<path d="M1779 2841.7 L1792 2866.7 L1766 2866.7Z" fill="#FF00FF"/><rect x="1770.5" y="2859.2" width="17" height="3.6" fill="#fff"/>
<text x="1846.5" y="2870.2" font-size="45" letter-spacing="1.8">2045 min</text>
</svg></body></html>
